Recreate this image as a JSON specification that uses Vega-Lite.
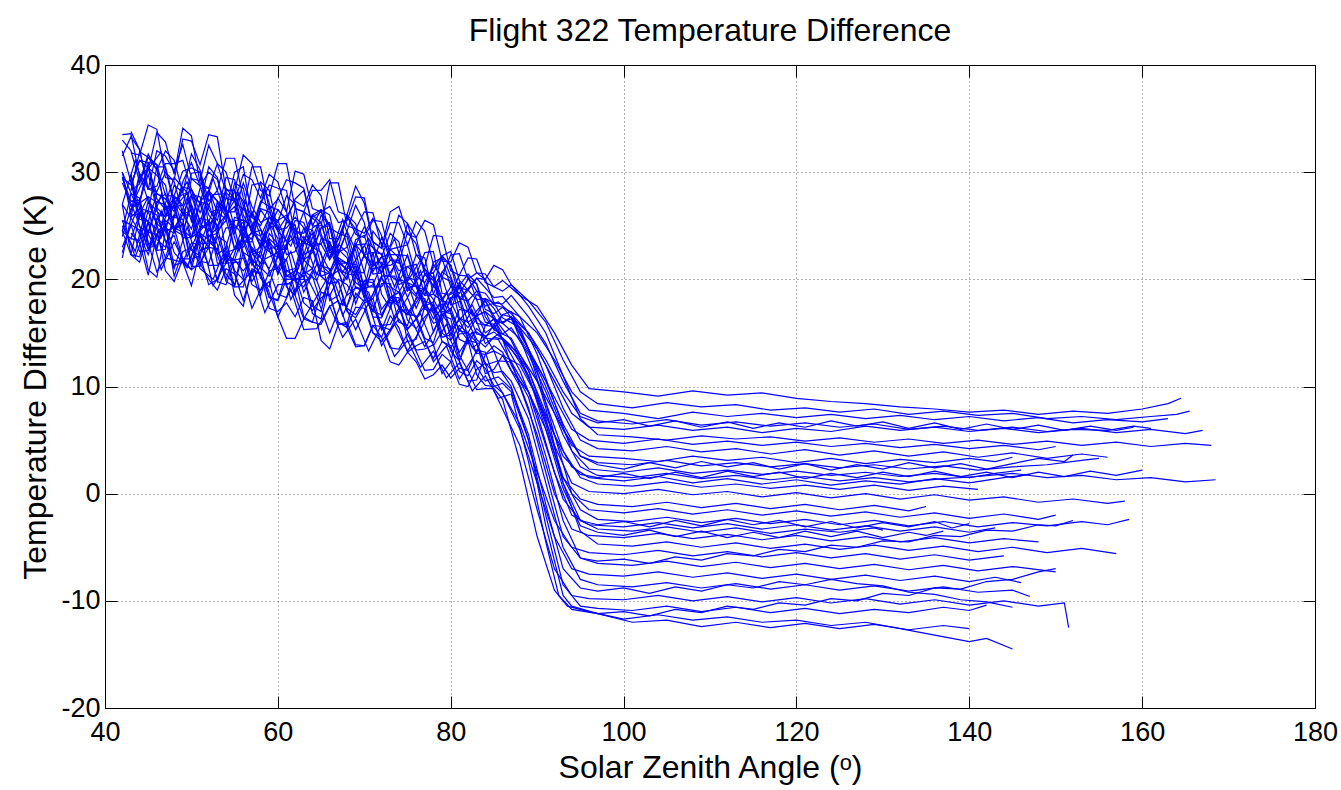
{
"$schema":"https://vega.github.io/schema/vega-lite/v6.json",
"width":1210,"height":643,
"autosize":{"type":"none"},
"padding":{"left":105,"top":65,"right":26,"bottom":82},
"background":"white",
"title":{"text":"Flight 322 Temperature Difference","font":"Liberation Sans","fontSize":32,"fontWeight":"normal","color":"#000","anchor":"middle","frame":"group","baseline":"alphabetic","offset":-22},
"config":{"view":{"stroke":"#000","strokeWidth":1},
"axis":{"domain":false,"grid":true,"gridColor":"#000","gridDash":[1,3],"gridOpacity":0.6,"gridWidth":1,"tickColor":"#000","tickSize":-12,"tickWidth":1,"labelFont":"Liberation Sans","labelFontSize":27,"labelColor":"#000","titleFont":"Liberation Sans","titleFontSize":32,"titleFontWeight":"normal","titleColor":"#000"}},
"datasets":{"d":[
{"s":1,"x":42,"y":33.5},{"s":1,"x":44,"y":29.6},{"s":1,"x":46,"y":33.7},{"s":1,"x":48,"y":29.8},{"s":1,"x":50,"y":33.4},{"s":1,"x":52,"y":28.5},{"s":1,"x":54,"y":30},{"s":1,"x":56,"y":26.5},{"s":1,"x":58,"y":30.5},{"s":1,"x":60,"y":27.5},{"s":1,"x":62,"y":29},{"s":1,"x":64,"y":25},{"s":1,"x":66,"y":29},{"s":1,"x":68,"y":25},{"s":1,"x":70,"y":26.3},{"s":1,"x":72,"y":23.1},{"s":1,"x":74,"y":26},{"s":1,"x":76,"y":22.3},{"s":1,"x":78,"y":24.1},{"s":1,"x":80,"y":20.8},{"s":1,"x":82,"y":22},{"s":1,"x":84,"y":19.7},{"s":1,"x":86,"y":19.9},{"s":1,"x":88,"y":18.5},{"s":1,"x":90,"y":17.5},{"s":1,"x":92,"y":15},{"s":1,"x":94,"y":12},{"s":1,"x":96,"y":9.8},{"s":1,"x":100,"y":9.5},{"s":1,"x":104,"y":9.1},{"s":1,"x":108,"y":9.6},{"s":1,"x":112,"y":9.2},{"s":1,"x":116,"y":9.4},{"s":1,"x":120,"y":8.9},{"s":1,"x":124,"y":8.6},{"s":1,"x":128,"y":8.4},{"s":1,"x":132,"y":8.1},{"s":1,"x":136,"y":7.9},{"s":1,"x":140,"y":7.6},{"s":1,"x":144,"y":7.8},{"s":1,"x":148,"y":7.4},{"s":1,"x":152,"y":7.7},{"s":1,"x":156,"y":7.5},{"s":1,"x":160,"y":7.9},{"s":1,"x":163,"y":8.4},{"s":1,"x":164.5,"y":8.9},
{"s":1,"x":43,"y":33.6},{"s":1,"x":45,"y":30.2},{"s":1,"x":47,"y":32.8},{"s":1,"x":49,"y":34.1},{"s":1,"x":51,"y":29},{"s":1,"x":53,"y":30.8},{"s":1,"x":55,"y":27.3},{"s":1,"x":57,"y":30.5},{"s":1,"x":59,"y":26.5},{"s":1,"x":61,"y":29.3},{"s":1,"x":63,"y":28.5},{"s":1,"x":65,"y":25},{"s":1,"x":67,"y":29},{"s":1,"x":69,"y":24.7},{"s":1,"x":71,"y":26.2},{"s":1,"x":73,"y":23.1},{"s":1,"x":75,"y":25.2},{"s":1,"x":77,"y":21.2},{"s":1,"x":79,"y":24},{"s":1,"x":81,"y":20.4},{"s":1,"x":83,"y":21.9},{"s":1,"x":85,"y":19.3},
{"s":2,"x":43,"y":31.8},{"s":2,"x":45,"y":34.4},{"s":2,"x":47,"y":29.5},{"s":2,"x":49,"y":33.1},{"s":2,"x":51,"y":30.7},{"s":2,"x":53,"y":33.3},{"s":2,"x":55,"y":28.3},{"s":2,"x":57,"y":30.8},{"s":2,"x":59,"y":27.8},{"s":2,"x":61,"y":30.8},{"s":2,"x":63,"y":26.3},{"s":2,"x":65,"y":28.3},{"s":2,"x":67,"y":26.3},{"s":2,"x":69,"y":28.7},{"s":2,"x":71,"y":23.5},{"s":2,"x":73,"y":26.3},{"s":2,"x":75,"y":24.2},{"s":2,"x":77,"y":25.5},{"s":2,"x":79,"y":21.7},{"s":2,"x":81,"y":23.4},{"s":2,"x":83,"y":20.6},{"s":2,"x":85,"y":21.3},{"s":2,"x":87,"y":19.5},{"s":2,"x":89,"y":18},{"s":2,"x":91,"y":16},{"s":2,"x":93,"y":12.5},{"s":2,"x":95,"y":9.5},{"s":2,"x":97,"y":8.4},{"s":2,"x":101,"y":8},{"s":2,"x":105,"y":8.5},{"s":2,"x":109,"y":8.1},{"s":2,"x":113,"y":8.3},{"s":2,"x":117,"y":7.8},{"s":2,"x":121,"y":8},{"s":2,"x":125,"y":7.6},{"s":2,"x":129,"y":7.9},{"s":2,"x":133,"y":7.4},{"s":2,"x":137,"y":7.7},{"s":2,"x":141,"y":7.3},{"s":2,"x":145,"y":7.5},{"s":2,"x":149,"y":7},{"s":2,"x":153,"y":7.2},{"s":2,"x":157,"y":6.9},{"s":2,"x":161,"y":7.2},{"s":2,"x":164,"y":7.4},{"s":2,"x":165.5,"y":7.7},
{"s":2,"x":44,"y":31.6},{"s":2,"x":46,"y":34},{"s":2,"x":48,"y":29.3},{"s":2,"x":50,"y":32.9},{"s":2,"x":52,"y":33.5},{"s":2,"x":54,"y":28.3},{"s":2,"x":56,"y":31.6},{"s":2,"x":58,"y":28.3},{"s":2,"x":60,"y":30.8},{"s":2,"x":62,"y":26.6},{"s":2,"x":64,"y":28.3},{"s":2,"x":66,"y":29.3},{"s":2,"x":68,"y":26},{"s":2,"x":70,"y":27.1},{"s":2,"x":72,"y":22.9},{"s":2,"x":74,"y":26.8},{"s":2,"x":76,"y":23.9},{"s":2,"x":78,"y":25.1},{"s":2,"x":80,"y":21.6},{"s":2,"x":82,"y":23},{"s":2,"x":84,"y":20},{"s":2,"x":86,"y":20.9},
{"s":3,"x":42,"y":33},{"s":3,"x":44,"y":29.1},{"s":3,"x":46,"y":30.2},{"s":3,"x":48,"y":26.8},{"s":3,"x":50,"y":29.9},{"s":3,"x":52,"y":25},{"s":3,"x":54,"y":29.5},{"s":3,"x":56,"y":26},{"s":3,"x":58,"y":27},{"s":3,"x":60,"y":28.5},{"s":3,"x":62,"y":24},{"s":3,"x":64,"y":26},{"s":3,"x":66,"y":22.5},{"s":3,"x":68,"y":24.5},{"s":3,"x":70,"y":25.3},{"s":3,"x":72,"y":20.6},{"s":3,"x":74,"y":23},{"s":3,"x":76,"y":20.3},{"s":3,"x":78,"y":21.1},{"s":3,"x":80,"y":21.3},{"s":3,"x":82,"y":18},{"s":3,"x":84,"y":18.7},{"s":3,"x":86,"y":17.4},{"s":3,"x":88,"y":16.5},{"s":3,"x":90,"y":15},{"s":3,"x":92,"y":12.5},{"s":3,"x":94,"y":9.5},{"s":3,"x":96,"y":7.8},{"s":3,"x":100,"y":7.5},{"s":3,"x":104,"y":7},{"s":3,"x":108,"y":7.6},{"s":3,"x":112,"y":7.2},{"s":3,"x":116,"y":7.5},{"s":3,"x":120,"y":7.1},{"s":3,"x":124,"y":7.4},{"s":3,"x":128,"y":7},{"s":3,"x":132,"y":7.3},{"s":3,"x":136,"y":6.9},{"s":3,"x":140,"y":7.2},{"s":3,"x":144,"y":6.8},{"s":3,"x":148,"y":7.1},{"s":3,"x":152,"y":6.6},{"s":3,"x":156,"y":6.9},{"s":3,"x":160,"y":6.7},{"s":3,"x":163,"y":7},
{"s":3,"x":43,"y":32},{"s":3,"x":45,"y":31.7},{"s":3,"x":47,"y":26.5},{"s":3,"x":49,"y":26.9},{"s":3,"x":51,"y":30},{"s":3,"x":53,"y":26.3},{"s":3,"x":55,"y":29.3},{"s":3,"x":57,"y":24.5},{"s":3,"x":59,"y":28.8},{"s":3,"x":61,"y":28.3},{"s":3,"x":63,"y":23.5},{"s":3,"x":65,"y":25.3},{"s":3,"x":67,"y":22.5},{"s":3,"x":69,"y":26.9},{"s":3,"x":71,"y":21.5},{"s":3,"x":73,"y":22.8},{"s":3,"x":75,"y":23.2},{"s":3,"x":77,"y":19.7},{"s":3,"x":79,"y":22.2},{"s":3,"x":81,"y":18.2},{"s":3,"x":83,"y":18.9},{"s":3,"x":85,"y":17.6},
{"s":4,"x":43,"y":28.3},{"s":4,"x":45,"y":31.4},{"s":4,"x":47,"y":32},{"s":4,"x":49,"y":28.1},{"s":4,"x":51,"y":30.2},{"s":4,"x":53,"y":28.3},{"s":4,"x":55,"y":31.3},{"s":4,"x":57,"y":25.8},{"s":4,"x":59,"y":28.3},{"s":4,"x":61,"y":25.8},{"s":4,"x":63,"y":26.8},{"s":4,"x":65,"y":27.8},{"s":4,"x":67,"y":23.8},{"s":4,"x":69,"y":24.2},{"s":4,"x":71,"y":25.5},{"s":4,"x":73,"y":22.3},{"s":4,"x":75,"y":25.2},{"s":4,"x":77,"y":20.5},{"s":4,"x":79,"y":22.2},{"s":4,"x":81,"y":19.9},{"s":4,"x":83,"y":20.1},{"s":4,"x":85,"y":17.8},{"s":4,"x":87,"y":18.5},{"s":4,"x":89,"y":16.5},{"s":4,"x":91,"y":14},{"s":4,"x":93,"y":10.5},{"s":4,"x":95,"y":7.5},{"s":4,"x":97,"y":6.8},{"s":4,"x":101,"y":6.5},{"s":4,"x":105,"y":6.9},{"s":4,"x":109,"y":6.4},{"s":4,"x":113,"y":6.7},{"s":4,"x":117,"y":6.3},{"s":4,"x":121,"y":6.6},{"s":4,"x":125,"y":6.2},{"s":4,"x":129,"y":6.5},{"s":4,"x":133,"y":6},{"s":4,"x":137,"y":6.3},{"s":4,"x":141,"y":5.9},{"s":4,"x":145,"y":6.2},{"s":4,"x":149,"y":5.8},{"s":4,"x":153,"y":6.1},{"s":4,"x":157,"y":5.7},{"s":4,"x":161,"y":6},{"s":4,"x":165,"y":5.6},{"s":4,"x":167,"y":5.9},
{"s":4,"x":44,"y":31.9},{"s":4,"x":46,"y":30.2},{"s":4,"x":48,"y":31.1},{"s":4,"x":50,"y":31.7},{"s":4,"x":52,"y":27.3},{"s":4,"x":54,"y":31.3},{"s":4,"x":56,"y":27.6},{"s":4,"x":58,"y":29.1},{"s":4,"x":60,"y":24.6},{"s":4,"x":62,"y":27.3},{"s":4,"x":64,"y":28.8},{"s":4,"x":66,"y":23.8},{"s":4,"x":68,"y":26},{"s":4,"x":70,"y":23.9},{"s":4,"x":72,"y":25.4},{"s":4,"x":74,"y":22.3},{"s":4,"x":76,"y":23.9},{"s":4,"x":78,"y":19.4},{"s":4,"x":80,"y":22.6},{"s":4,"x":82,"y":19},{"s":4,"x":84,"y":20},{"s":4,"x":86,"y":17.7},
{"s":5,"x":42,"y":29.5},{"s":5,"x":44,"y":31.1},{"s":5,"x":46,"y":26.7},{"s":5,"x":48,"y":28.8},{"s":5,"x":50,"y":25.4},{"s":5,"x":52,"y":28.5},{"s":5,"x":54,"y":25.5},{"s":5,"x":56,"y":28.5},{"s":5,"x":58,"y":23},{"s":5,"x":60,"y":25.5},{"s":5,"x":62,"y":25.5},{"s":5,"x":64,"y":23},{"s":5,"x":66,"y":25},{"s":5,"x":68,"y":21},{"s":5,"x":70,"y":23.3},{"s":5,"x":72,"y":22.1},{"s":5,"x":74,"y":19.5},{"s":5,"x":76,"y":22.3},{"s":5,"x":78,"y":18.6},{"s":5,"x":80,"y":19.3},{"s":5,"x":82,"y":17},{"s":5,"x":84,"y":18.2},{"s":5,"x":86,"y":16.4},{"s":5,"x":88,"y":15.5},{"s":5,"x":90,"y":13.5},{"s":5,"x":92,"y":10.5},{"s":5,"x":94,"y":7.5},{"s":5,"x":96,"y":6.2},{"s":5,"x":100,"y":6},{"s":5,"x":104,"y":6.4},{"s":5,"x":108,"y":5.9},{"s":5,"x":112,"y":6.2},{"s":5,"x":116,"y":5.7},{"s":5,"x":120,"y":6.1},{"s":5,"x":124,"y":5.8},{"s":5,"x":128,"y":6.3},{"s":5,"x":132,"y":5.9},{"s":5,"x":136,"y":6.2},{"s":5,"x":140,"y":5.8},{"s":5,"x":144,"y":6.1},{"s":5,"x":148,"y":5.7},{"s":5,"x":152,"y":6},{"s":5,"x":156,"y":5.9},{"s":5,"x":159,"y":6.3},{"s":5,"x":161,"y":6.1},
{"s":5,"x":43,"y":28.8},{"s":5,"x":45,"y":30.9},{"s":5,"x":47,"y":25.8},{"s":5,"x":49,"y":28.1},{"s":5,"x":51,"y":28.5},{"s":5,"x":53,"y":24.5},{"s":5,"x":55,"y":29},{"s":5,"x":57,"y":24.8},{"s":5,"x":59,"y":25.8},{"s":5,"x":61,"y":23.5},{"s":5,"x":63,"y":25.3},{"s":5,"x":65,"y":26},{"s":5,"x":67,"y":21.5},{"s":5,"x":69,"y":23.2},{"s":5,"x":71,"y":20.7},{"s":5,"x":73,"y":22.3},{"s":5,"x":75,"y":19.9},{"s":5,"x":77,"y":22},{"s":5,"x":79,"y":18},{"s":5,"x":81,"y":19.2},{"s":5,"x":83,"y":16.6},{"s":5,"x":85,"y":17.8},
{"s":6,"x":43,"y":33.8},{"s":6,"x":45,"y":28.4},{"s":6,"x":47,"y":31.5},{"s":6,"x":49,"y":32.6},{"s":6,"x":51,"y":29.2},{"s":6,"x":53,"y":30.8},{"s":6,"x":55,"y":27.3},{"s":6,"x":57,"y":29.3},{"s":6,"x":59,"y":29.8},{"s":6,"x":61,"y":26.3},{"s":6,"x":63,"y":29.8},{"s":6,"x":65,"y":26.3},{"s":6,"x":67,"y":25.3},{"s":6,"x":69,"y":27.7},{"s":6,"x":71,"y":23.5},{"s":6,"x":73,"y":25.3},{"s":6,"x":75,"y":23.2},{"s":6,"x":77,"y":24.5},{"s":6,"x":79,"y":20.2},{"s":6,"x":81,"y":22.4},{"s":6,"x":83,"y":20.6},{"s":6,"x":85,"y":19.3},{"s":6,"x":87,"y":19.5},{"s":6,"x":89,"y":17.5},{"s":6,"x":91,"y":15},{"s":6,"x":93,"y":11},{"s":6,"x":95,"y":7},{"s":6,"x":97,"y":5.5},{"s":6,"x":101,"y":5.3},{"s":6,"x":105,"y":5},{"s":6,"x":109,"y":5.4},{"s":6,"x":113,"y":5.1},{"s":6,"x":117,"y":5.3},{"s":6,"x":121,"y":4.9},{"s":6,"x":125,"y":5.2},{"s":6,"x":129,"y":4.8},{"s":6,"x":133,"y":5.1},{"s":6,"x":137,"y":4.7},{"s":6,"x":141,"y":5},{"s":6,"x":145,"y":4.6},{"s":6,"x":149,"y":4.9},{"s":6,"x":153,"y":4.5},{"s":6,"x":157,"y":4.8},{"s":6,"x":161,"y":4.4},{"s":6,"x":165,"y":4.7},{"s":6,"x":168,"y":4.5},
{"s":6,"x":44,"y":32.1},{"s":6,"x":46,"y":32},{"s":6,"x":48,"y":30.1},{"s":6,"x":50,"y":29.4},{"s":6,"x":52,"y":32.5},{"s":6,"x":54,"y":28.1},{"s":6,"x":56,"y":29.8},{"s":6,"x":58,"y":27.6},{"s":6,"x":60,"y":29.1},{"s":6,"x":62,"y":30.1},{"s":6,"x":64,"y":26.6},{"s":6,"x":66,"y":26.8},{"s":6,"x":68,"y":25.5},{"s":6,"x":70,"y":27.6},{"s":6,"x":72,"y":22.9},{"s":6,"x":74,"y":25.3},{"s":6,"x":76,"y":25.4},{"s":6,"x":78,"y":21.4},{"s":6,"x":80,"y":22.3},{"s":6,"x":82,"y":20},{"s":6,"x":84,"y":20.5},{"s":6,"x":86,"y":18.9},
{"s":7,"x":42,"y":29.5},{"s":7,"x":44,"y":27.1},{"s":7,"x":46,"y":29.7},{"s":7,"x":48,"y":24.8},{"s":7,"x":50,"y":29.4},{"s":7,"x":52,"y":26},{"s":7,"x":54,"y":26},{"s":7,"x":56,"y":23.5},{"s":7,"x":58,"y":26.5},{"s":7,"x":60,"y":22},{"s":7,"x":62,"y":25},{"s":7,"x":64,"y":22.5},{"s":7,"x":66,"y":25},{"s":7,"x":68,"y":20},{"s":7,"x":70,"y":22.3},{"s":7,"x":72,"y":20.6},{"s":7,"x":74,"y":22},{"s":7,"x":76,"y":19.8},{"s":7,"x":78,"y":20.1},{"s":7,"x":80,"y":17.8},{"s":7,"x":82,"y":18},{"s":7,"x":84,"y":15.7},{"s":7,"x":86,"y":15.9},{"s":7,"x":88,"y":14.5},{"s":7,"x":90,"y":12},{"s":7,"x":92,"y":9},{"s":7,"x":94,"y":6},{"s":7,"x":96,"y":5},{"s":7,"x":100,"y":4.7},{"s":7,"x":104,"y":5.1},{"s":7,"x":108,"y":4.6},{"s":7,"x":112,"y":4.9},{"s":7,"x":116,"y":4.5},{"s":7,"x":120,"y":4.8},{"s":7,"x":124,"y":4.4},{"s":7,"x":128,"y":4.7},{"s":7,"x":132,"y":4.3},{"s":7,"x":136,"y":4.6},{"s":7,"x":140,"y":4.2},{"s":7,"x":144,"y":4.5},{"s":7,"x":148,"y":4.1},{"s":7,"x":150,"y":4.4},
{"s":7,"x":43,"y":26.8},{"s":7,"x":45,"y":30.4},{"s":7,"x":47,"y":28.8},{"s":7,"x":49,"y":25.1},{"s":7,"x":51,"y":28.7},{"s":7,"x":53,"y":25},{"s":7,"x":55,"y":26.8},{"s":7,"x":57,"y":23.5},{"s":7,"x":59,"y":25.3},{"s":7,"x":61,"y":25.5},{"s":7,"x":63,"y":21.8},{"s":7,"x":65,"y":24.8},{"s":7,"x":67,"y":21},{"s":7,"x":69,"y":23.2},{"s":7,"x":71,"y":20.5},{"s":7,"x":73,"y":22.8},{"s":7,"x":75,"y":18.9},{"s":7,"x":77,"y":21},{"s":7,"x":79,"y":18},{"s":7,"x":81,"y":19.4},{"s":7,"x":83,"y":15.9},{"s":7,"x":85,"y":16.3},
{"s":8,"x":43,"y":28.8},{"s":8,"x":45,"y":30.4},{"s":8,"x":47,"y":27.5},{"s":8,"x":49,"y":29.1},{"s":8,"x":51,"y":28.7},{"s":8,"x":53,"y":29.3},{"s":8,"x":55,"y":26.3},{"s":8,"x":57,"y":26.8},{"s":8,"x":59,"y":25.8},{"s":8,"x":61,"y":27.8},{"s":8,"x":63,"y":22.3},{"s":8,"x":65,"y":25.3},{"s":8,"x":67,"y":23.8},{"s":8,"x":69,"y":24.7},{"s":8,"x":71,"y":21.5},{"s":8,"x":73,"y":22.3},{"s":8,"x":75,"y":21.2},{"s":8,"x":77,"y":22.5},{"s":8,"x":79,"y":18.7},{"s":8,"x":81,"y":20.4},{"s":8,"x":83,"y":18.1},{"s":8,"x":85,"y":17.3},{"s":8,"x":87,"y":16.5},{"s":8,"x":89,"y":15},{"s":8,"x":91,"y":12},{"s":8,"x":93,"y":8},{"s":8,"x":95,"y":5},{"s":8,"x":97,"y":4.2},{"s":8,"x":101,"y":4},{"s":8,"x":105,"y":4.4},{"s":8,"x":109,"y":3.9},{"s":8,"x":113,"y":4.2},{"s":8,"x":117,"y":3.7},{"s":8,"x":121,"y":4.1},{"s":8,"x":125,"y":3.6},{"s":8,"x":129,"y":4},{"s":8,"x":133,"y":3.5},{"s":8,"x":137,"y":3.9},{"s":8,"x":141,"y":3.4},{"s":8,"x":145,"y":3.8},{"s":8,"x":149,"y":3.3},{"s":8,"x":153,"y":3.7},{"s":8,"x":156,"y":3.4},
{"s":8,"x":44,"y":31.1},{"s":8,"x":46,"y":28},{"s":8,"x":48,"y":26.3},{"s":8,"x":50,"y":30.9},{"s":8,"x":52,"y":30},{"s":8,"x":54,"y":26.3},{"s":8,"x":56,"y":29},{"s":8,"x":58,"y":25.3},{"s":8,"x":60,"y":25.3},{"s":8,"x":62,"y":27},{"s":8,"x":64,"y":24.8},{"s":8,"x":66,"y":22.6},{"s":8,"x":68,"y":25.8},{"s":8,"x":70,"y":22.1},{"s":8,"x":72,"y":23.9},{"s":8,"x":74,"y":20.8},{"s":8,"x":76,"y":20.4},{"s":8,"x":78,"y":22.6},{"s":8,"x":80,"y":18.6},{"s":8,"x":82,"y":20.3},{"s":8,"x":84,"y":18.2},{"s":8,"x":86,"y":15.9},
{"s":9,"x":42,"y":30},{"s":9,"x":44,"y":26.1},{"s":9,"x":46,"y":27.2},{"s":9,"x":48,"y":24.8},{"s":9,"x":50,"y":26.9},{"s":9,"x":52,"y":23},{"s":9,"x":54,"y":26.5},{"s":9,"x":56,"y":23},{"s":9,"x":58,"y":24},{"s":9,"x":60,"y":24.5},{"s":9,"x":62,"y":21},{"s":9,"x":64,"y":23},{"s":9,"x":66,"y":20.5},{"s":9,"x":68,"y":21.5},{"s":9,"x":70,"y":22.3},{"s":9,"x":72,"y":18.6},{"s":9,"x":74,"y":20},{"s":9,"x":76,"y":17.3},{"s":9,"x":78,"y":18.1},{"s":9,"x":80,"y":17.3},{"s":9,"x":82,"y":15},{"s":9,"x":84,"y":15.7},{"s":9,"x":86,"y":14.4},{"s":9,"x":88,"y":13},{"s":9,"x":90,"y":10.5},{"s":9,"x":92,"y":7.5},{"s":9,"x":94,"y":4.5},{"s":9,"x":96,"y":3.5},{"s":9,"x":100,"y":3.3},{"s":9,"x":104,"y":3},{"s":9,"x":108,"y":3.5},{"s":9,"x":112,"y":3.1},{"s":9,"x":116,"y":3.4},{"s":9,"x":120,"y":2.9},{"s":9,"x":124,"y":3.3},{"s":9,"x":128,"y":2.8},{"s":9,"x":132,"y":3.2},{"s":9,"x":136,"y":2.9},{"s":9,"x":140,"y":3.3},{"s":9,"x":143,"y":3},{"s":9,"x":145,"y":3.4},
{"s":9,"x":43,"y":26},{"s":9,"x":45,"y":27.7},{"s":9,"x":47,"y":28},{"s":9,"x":49,"y":24.4},{"s":9,"x":51,"y":24},{"s":9,"x":53,"y":27.3},{"s":9,"x":55,"y":22.8},{"s":9,"x":57,"y":24.5},{"s":9,"x":59,"y":25.8},{"s":9,"x":61,"y":20.8},{"s":9,"x":63,"y":24},{"s":9,"x":65,"y":20.8},{"s":9,"x":67,"y":22},{"s":9,"x":69,"y":20.4},{"s":9,"x":71,"y":22.5},{"s":9,"x":73,"y":17.3},{"s":9,"x":75,"y":19.7},{"s":9,"x":77,"y":19.2},{"s":9,"x":79,"y":16.7},{"s":9,"x":81,"y":15.2},{"s":9,"x":83,"y":16.4},{"s":9,"x":85,"y":15.6},
{"s":10,"x":43,"y":26.3},{"s":10,"x":45,"y":28.4},{"s":10,"x":47,"y":30},{"s":10,"x":49,"y":26.1},{"s":10,"x":51,"y":27.2},{"s":10,"x":53,"y":26.3},{"s":10,"x":55,"y":28.3},{"s":10,"x":57,"y":23.8},{"s":10,"x":59,"y":26.3},{"s":10,"x":61,"y":24.8},{"s":10,"x":63,"y":24.8},{"s":10,"x":65,"y":24.8},{"s":10,"x":67,"y":21.8},{"s":10,"x":69,"y":23.2},{"s":10,"x":71,"y":23.5},{"s":10,"x":73,"y":20.3},{"s":10,"x":75,"y":22.2},{"s":10,"x":77,"y":18.5},{"s":10,"x":79,"y":20.2},{"s":10,"x":81,"y":17.9},{"s":10,"x":83,"y":18.1},{"s":10,"x":85,"y":15.8},{"s":10,"x":87,"y":16.5},{"s":10,"x":89,"y":13.5},{"s":10,"x":91,"y":10.5},{"s":10,"x":93,"y":6.5},{"s":10,"x":95,"y":3.5},{"s":10,"x":97,"y":2.9},{"s":10,"x":101,"y":2.7},{"s":10,"x":105,"y":3.1},{"s":10,"x":109,"y":2.6},{"s":10,"x":113,"y":2.9},{"s":10,"x":117,"y":2.5},{"s":10,"x":121,"y":2.8},{"s":10,"x":125,"y":2.4},{"s":10,"x":129,"y":2.7},{"s":10,"x":133,"y":2.3},{"s":10,"x":137,"y":2.6},{"s":10,"x":141,"y":2.2},{"s":10,"x":145,"y":2.5},{"s":10,"x":149,"y":2.7},{"s":10,"x":153,"y":3.1},{"s":10,"x":155,"y":3.3},
{"s":10,"x":44,"y":29.9},{"s":10,"x":46,"y":28.2},{"s":10,"x":48,"y":29.1},{"s":10,"x":50,"y":24.7},{"s":10,"x":52,"y":28.3},{"s":10,"x":54,"y":28.3},{"s":10,"x":56,"y":24.1},{"s":10,"x":58,"y":26.6},{"s":10,"x":60,"y":24.6},{"s":10,"x":62,"y":25.8},{"s":10,"x":64,"y":22.8},{"s":10,"x":66,"y":25.3},{"s":10,"x":68,"y":21.5},{"s":10,"x":70,"y":24.9},{"s":10,"x":72,"y":20.4},{"s":10,"x":74,"y":22.3},{"s":10,"x":76,"y":19.4},{"s":10,"x":78,"y":21.4},{"s":10,"x":80,"y":17.6},{"s":10,"x":82,"y":19},{"s":10,"x":84,"y":16},{"s":10,"x":86,"y":16.7},
{"s":11,"x":42,"y":31.5},{"s":11,"x":44,"y":32.1},{"s":11,"x":46,"y":28.7},{"s":11,"x":48,"y":30.8},{"s":11,"x":50,"y":28.4},{"s":11,"x":52,"y":30.5},{"s":11,"x":54,"y":26.5},{"s":11,"x":56,"y":30.5},{"s":11,"x":58,"y":25},{"s":11,"x":60,"y":26.5},{"s":11,"x":62,"y":27.5},{"s":11,"x":64,"y":25},{"s":11,"x":66,"y":26},{"s":11,"x":68,"y":23},{"s":11,"x":70,"y":24.3},{"s":11,"x":72,"y":24.1},{"s":11,"x":74,"y":21.5},{"s":11,"x":76,"y":23.3},{"s":11,"x":78,"y":20.6},{"s":11,"x":80,"y":21.3},{"s":11,"x":82,"y":19},{"s":11,"x":84,"y":19.2},{"s":11,"x":86,"y":18.4},{"s":11,"x":88,"y":16.5},{"s":11,"x":90,"y":13},{"s":11,"x":92,"y":8.5},{"s":11,"x":94,"y":4},{"s":11,"x":96,"y":2.3},{"s":11,"x":100,"y":2},{"s":11,"x":104,"y":2.4},{"s":11,"x":108,"y":1.9},{"s":11,"x":112,"y":2.2},{"s":11,"x":116,"y":1.8},{"s":11,"x":120,"y":2.1},{"s":11,"x":124,"y":1.7},{"s":11,"x":128,"y":2},{"s":11,"x":132,"y":1.6},{"s":11,"x":136,"y":1.9},{"s":11,"x":140,"y":1.5},{"s":11,"x":143,"y":1.9},{"s":11,"x":146,"y":2.2},
{"s":11,"x":43,"y":33.3},{"s":11,"x":45,"y":28.4},{"s":11,"x":47,"y":30.8},{"s":11,"x":49,"y":31.1},{"s":11,"x":51,"y":27},{"s":11,"x":53,"y":29.5},{"s":11,"x":55,"y":30},{"s":11,"x":57,"y":25.8},{"s":11,"x":59,"y":26.8},{"s":11,"x":61,"y":25.5},{"s":11,"x":63,"y":28.3},{"s":11,"x":65,"y":26.5},{"s":11,"x":67,"y":22.5},{"s":11,"x":69,"y":24.7},{"s":11,"x":71,"y":25.7},{"s":11,"x":73,"y":21.8},{"s":11,"x":75,"y":24.4},{"s":11,"x":77,"y":20.5},{"s":11,"x":79,"y":22},{"s":11,"x":81,"y":19.2},{"s":11,"x":83,"y":20.1},{"s":11,"x":85,"y":18.3},
{"s":12,"x":43,"y":29.8},{"s":12,"x":45,"y":25.4},{"s":12,"x":47,"y":27.5},{"s":12,"x":49,"y":27.6},{"s":12,"x":51,"y":25.2},{"s":12,"x":53,"y":26.8},{"s":12,"x":55,"y":24.3},{"s":12,"x":57,"y":25.3},{"s":12,"x":59,"y":24.8},{"s":12,"x":61,"y":22.3},{"s":12,"x":63,"y":24.8},{"s":12,"x":65,"y":22.3},{"s":12,"x":67,"y":22.3},{"s":12,"x":69,"y":22.7},{"s":12,"x":71,"y":19.5},{"s":12,"x":73,"y":21.3},{"s":12,"x":75,"y":19.2},{"s":12,"x":77,"y":20.5},{"s":12,"x":79,"y":17.2},{"s":12,"x":81,"y":18.4},{"s":12,"x":83,"y":16.6},{"s":12,"x":85,"y":15.3},{"s":12,"x":87,"y":15.5},{"s":12,"x":89,"y":13},{"s":12,"x":91,"y":9.5},{"s":12,"x":93,"y":5.5},{"s":12,"x":95,"y":2.5},{"s":12,"x":97,"y":1.7},{"s":12,"x":101,"y":1.5},{"s":12,"x":105,"y":1.9},{"s":12,"x":109,"y":1.4},{"s":12,"x":113,"y":1.7},{"s":12,"x":117,"y":1.3},{"s":12,"x":121,"y":1.6},{"s":12,"x":125,"y":1.2},{"s":12,"x":129,"y":1.5},{"s":12,"x":133,"y":1.1},{"s":12,"x":137,"y":1.4},{"s":12,"x":141,"y":1.6},{"s":12,"x":145,"y":1.9},{"s":12,"x":149,"y":1.5},{"s":12,"x":153,"y":1.7},{"s":12,"x":157,"y":1.3},{"s":12,"x":161,"y":1.5},{"s":12,"x":165,"y":1.1},{"s":12,"x":168.5,"y":1.3},
{"s":12,"x":44,"y":25.6},{"s":12,"x":46,"y":28},{"s":12,"x":48,"y":26.6},{"s":12,"x":50,"y":28.4},{"s":12,"x":52,"y":24.5},{"s":12,"x":54,"y":26.6},{"s":12,"x":56,"y":26.8},{"s":12,"x":58,"y":23.1},{"s":12,"x":60,"y":25.1},{"s":12,"x":62,"y":22.6},{"s":12,"x":64,"y":24.6},{"s":12,"x":66,"y":20.8},{"s":12,"x":68,"y":24.5},{"s":12,"x":70,"y":19.1},{"s":12,"x":72,"y":21.4},{"s":12,"x":74,"y":21.8},{"s":12,"x":76,"y":18.4},{"s":12,"x":78,"y":19.9},{"s":12,"x":80,"y":18.8},{"s":12,"x":82,"y":16},{"s":12,"x":84,"y":17},{"s":12,"x":86,"y":14.9},
{"s":13,"x":42,"y":24.5},{"s":13,"x":44,"y":27.6},{"s":13,"x":46,"y":22.7},{"s":13,"x":48,"y":25.8},{"s":13,"x":50,"y":21.4},{"s":13,"x":52,"y":25.5},{"s":13,"x":54,"y":23},{"s":13,"x":56,"y":25.5},{"s":13,"x":58,"y":20.5},{"s":13,"x":60,"y":22.5},{"s":13,"x":62,"y":20},{"s":13,"x":64,"y":23},{"s":13,"x":66,"y":18},{"s":13,"x":68,"y":21},{"s":13,"x":70,"y":18.3},{"s":13,"x":72,"y":20.1},{"s":13,"x":74,"y":16},{"s":13,"x":76,"y":18.3},{"s":13,"x":78,"y":15.1},{"s":13,"x":80,"y":16.8},{"s":13,"x":82,"y":14},{"s":13,"x":84,"y":14.7},{"s":13,"x":86,"y":12.9},{"s":13,"x":88,"y":12},{"s":13,"x":90,"y":9},{"s":13,"x":92,"y":5.5},{"s":13,"x":94,"y":2.5},{"s":13,"x":96,"y":1.5},{"s":13,"x":100,"y":1.2},{"s":13,"x":104,"y":1.6},{"s":13,"x":108,"y":1},{"s":13,"x":112,"y":1.4},{"s":13,"x":116,"y":0.9},{"s":13,"x":120,"y":1.3},{"s":13,"x":124,"y":0.8},{"s":13,"x":128,"y":1.2},{"s":13,"x":132,"y":0.9},{"s":13,"x":136,"y":1.4},{"s":13,"x":140,"y":1},{"s":13,"x":144,"y":1.5},{"s":13,"x":147,"y":1.8},
{"s":13,"x":43,"y":28},{"s":13,"x":45,"y":24.2},{"s":13,"x":47,"y":22.8},{"s":13,"x":49,"y":25.6},{"s":13,"x":51,"y":24.5},{"s":13,"x":53,"y":22.3},{"s":13,"x":55,"y":25.8},{"s":13,"x":57,"y":21.5},{"s":13,"x":59,"y":23.5},{"s":13,"x":61,"y":20.3},{"s":13,"x":63,"y":20},{"s":13,"x":65,"y":22.5},{"s":13,"x":67,"y":18.5},{"s":13,"x":69,"y":21.2},{"s":13,"x":71,"y":18.2},{"s":13,"x":73,"y":19.1},{"s":13,"x":75,"y":15.7},{"s":13,"x":77,"y":18.2},{"s":13,"x":79,"y":17},{"s":13,"x":81,"y":14.4},{"s":13,"x":83,"y":15.4},{"s":13,"x":85,"y":13.3},
{"s":14,"x":43,"y":29.8},{"s":14,"x":45,"y":26.4},{"s":14,"x":47,"y":30.5},{"s":14,"x":49,"y":26.1},{"s":14,"x":51,"y":27.7},{"s":14,"x":53,"y":24.3},{"s":14,"x":55,"y":28.3},{"s":14,"x":57,"y":24.8},{"s":14,"x":59,"y":26.8},{"s":14,"x":61,"y":22.8},{"s":14,"x":63,"y":26.3},{"s":14,"x":65,"y":23.3},{"s":14,"x":67,"y":24.3},{"s":14,"x":69,"y":20.7},{"s":14,"x":71,"y":24.5},{"s":14,"x":73,"y":20.3},{"s":14,"x":75,"y":21.2},{"s":14,"x":77,"y":18.5},{"s":14,"x":79,"y":20.7},{"s":14,"x":81,"y":17.4},{"s":14,"x":83,"y":18.6},{"s":14,"x":85,"y":16.3},{"s":14,"x":87,"y":16.5},{"s":14,"x":89,"y":12.5},{"s":14,"x":91,"y":8.5},{"s":14,"x":93,"y":4},{"s":14,"x":95,"y":1.5},{"s":14,"x":97,"y":0.9},{"s":14,"x":101,"y":0.7},{"s":14,"x":105,"y":1.1},{"s":14,"x":109,"y":0.6},{"s":14,"x":113,"y":0.9},{"s":14,"x":117,"y":0.5},{"s":14,"x":121,"y":0.8},{"s":14,"x":125,"y":0.4},{"s":14,"x":129,"y":0.8},{"s":14,"x":133,"y":0.3},{"s":14,"x":137,"y":0.7},{"s":14,"x":141,"y":0.4},
{"s":14,"x":44,"y":26.6},{"s":14,"x":46,"y":30.5},{"s":14,"x":48,"y":27.3},{"s":14,"x":50,"y":27.9},{"s":14,"x":52,"y":24},{"s":14,"x":54,"y":28.3},{"s":14,"x":56,"y":25.6},{"s":14,"x":58,"y":27.3},{"s":14,"x":60,"y":22.8},{"s":14,"x":62,"y":26.6},{"s":14,"x":64,"y":23.3},{"s":14,"x":66,"y":24.8},{"s":14,"x":68,"y":24},{"s":14,"x":70,"y":20.6},{"s":14,"x":72,"y":23.4},{"s":14,"x":74,"y":19.8},{"s":14,"x":76,"y":21.4},{"s":14,"x":78,"y":18.6},{"s":14,"x":80,"y":20.1},{"s":14,"x":82,"y":17},{"s":14,"x":84,"y":18},{"s":14,"x":86,"y":15.9},
{"s":15,"x":42,"y":24},{"s":15,"x":44,"y":27.1},{"s":15,"x":46,"y":25.2},{"s":15,"x":48,"y":27.8},{"s":15,"x":50,"y":23.9},{"s":15,"x":52,"y":28},{"s":15,"x":54,"y":22.5},{"s":15,"x":56,"y":25},{"s":15,"x":58,"y":23},{"s":15,"x":60,"y":20.5},{"s":15,"x":62,"y":24},{"s":15,"x":64,"y":21},{"s":15,"x":66,"y":23.5},{"s":15,"x":68,"y":20.5},{"s":15,"x":70,"y":18.3},{"s":15,"x":72,"y":21.6},{"s":15,"x":74,"y":18},{"s":15,"x":76,"y":19.3},{"s":15,"x":78,"y":17.1},{"s":15,"x":80,"y":15.3},{"s":15,"x":82,"y":17},{"s":15,"x":84,"y":14.7},{"s":15,"x":86,"y":14.4},{"s":15,"x":88,"y":12.5},{"s":15,"x":90,"y":9},{"s":15,"x":92,"y":4.5},{"s":15,"x":94,"y":1},{"s":15,"x":96,"y":0.2},{"s":15,"x":100,"y":0},{"s":15,"x":104,"y":0.4},{"s":15,"x":108,"y":-0.1},{"s":15,"x":112,"y":0.2},{"s":15,"x":116,"y":-0.3},{"s":15,"x":120,"y":0.1},{"s":15,"x":124,"y":-0.4},{"s":15,"x":128,"y":0},{"s":15,"x":132,"y":-0.5},{"s":15,"x":136,"y":-0.1},{"s":15,"x":140,"y":-0.6},{"s":15,"x":144,"y":-0.3},{"s":15,"x":148,"y":-0.8},{"s":15,"x":152,"y":-0.5},{"s":15,"x":156,"y":-0.9},{"s":15,"x":158,"y":-0.7},
{"s":15,"x":43,"y":26.6},{"s":15,"x":45,"y":27.7},{"s":15,"x":47,"y":24.5},{"s":15,"x":49,"y":26.9},{"s":15,"x":51,"y":24.5},{"s":15,"x":53,"y":27.3},{"s":15,"x":55,"y":22.8},{"s":15,"x":57,"y":22.5},{"s":15,"x":59,"y":23.8},{"s":15,"x":61,"y":23.3},{"s":15,"x":63,"y":20.5},{"s":15,"x":65,"y":23.8},{"s":15,"x":67,"y":21},{"s":15,"x":69,"y":20.4},{"s":15,"x":71,"y":21.5},{"s":15,"x":73,"y":17.8},{"s":15,"x":75,"y":19.7},{"s":15,"x":77,"y":17.2},{"s":15,"x":79,"y":17.7},{"s":15,"x":81,"y":17.2},{"s":15,"x":83,"y":14.9},{"s":15,"x":85,"y":15.1},
{"s":16,"x":43,"y":27.3},{"s":16,"x":45,"y":23.4},{"s":16,"x":47,"y":22},{"s":16,"x":49,"y":25.1},{"s":16,"x":51,"y":22.2},{"s":16,"x":53,"y":23.3},{"s":16,"x":55,"y":19.3},{"s":16,"x":57,"y":23.8},{"s":16,"x":59,"y":20.3},{"s":16,"x":61,"y":21.8},{"s":16,"x":63,"y":19.8},{"s":16,"x":65,"y":17.8},{"s":16,"x":67,"y":20.8},{"s":16,"x":69,"y":19.2},{"s":16,"x":71,"y":16.5},{"s":16,"x":73,"y":18.3},{"s":16,"x":75,"y":14.2},{"s":16,"x":77,"y":17.5},{"s":16,"x":79,"y":14.2},{"s":16,"x":81,"y":14.9},{"s":16,"x":83,"y":13.1},{"s":16,"x":85,"y":13.8},{"s":16,"x":87,"y":11.5},{"s":16,"x":89,"y":9.5},{"s":16,"x":91,"y":6},{"s":16,"x":93,"y":1.5},{"s":16,"x":95,"y":-0.5},{"s":16,"x":97,"y":-1},{"s":16,"x":101,"y":-1.2},{"s":16,"x":105,"y":-0.8},{"s":16,"x":109,"y":-1.3},{"s":16,"x":113,"y":-0.9},{"s":16,"x":117,"y":-1.4},{"s":16,"x":121,"y":-1},{"s":16,"x":125,"y":-1.5},{"s":16,"x":129,"y":-1.1},{"s":16,"x":133,"y":-1.6},{"s":16,"x":135,"y":-1.2},
{"s":16,"x":44,"y":27.4},{"s":16,"x":46,"y":20.7},{"s":16,"x":48,"y":24.6},{"s":16,"x":50,"y":22.7},{"s":16,"x":52,"y":24.8},{"s":16,"x":54,"y":19.8},{"s":16,"x":56,"y":23.6},{"s":16,"x":58,"y":21.1},{"s":16,"x":60,"y":22.1},{"s":16,"x":62,"y":18.8},{"s":16,"x":64,"y":20.3},{"s":16,"x":66,"y":20.3},{"s":16,"x":68,"y":18.5},{"s":16,"x":70,"y":18.9},{"s":16,"x":72,"y":16.4},{"s":16,"x":74,"y":18.3},{"s":16,"x":76,"y":14.4},{"s":16,"x":78,"y":16.9},{"s":16,"x":80,"y":13.6},{"s":16,"x":82,"y":15},{"s":16,"x":84,"y":13},{"s":16,"x":86,"y":13.2},
{"s":17,"x":42,"y":29.5},{"s":17,"x":44,"y":27.1},{"s":17,"x":46,"y":30.7},{"s":17,"x":48,"y":27.8},{"s":17,"x":50,"y":30.4},{"s":17,"x":52,"y":26.5},{"s":17,"x":54,"y":28.5},{"s":17,"x":56,"y":24.5},{"s":17,"x":58,"y":29},{"s":17,"x":60,"y":25.5},{"s":17,"x":62,"y":24.5},{"s":17,"x":64,"y":26},{"s":17,"x":66,"y":23},{"s":17,"x":68,"y":26},{"s":17,"x":70,"y":22.3},{"s":17,"x":72,"y":22.1},{"s":17,"x":74,"y":23.5},{"s":17,"x":76,"y":19.3},{"s":17,"x":78,"y":21.6},{"s":17,"x":80,"y":19.3},{"s":17,"x":82,"y":20},{"s":17,"x":84,"y":17.2},{"s":17,"x":86,"y":17.4},{"s":17,"x":88,"y":15.5},{"s":17,"x":90,"y":11.5},{"s":17,"x":92,"y":5.5},{"s":17,"x":94,"y":0},{"s":17,"x":96,"y":-1.5},{"s":17,"x":100,"y":-1.8},{"s":17,"x":104,"y":-1.4},{"s":17,"x":108,"y":-1.9},{"s":17,"x":112,"y":-1.5},{"s":17,"x":116,"y":-2},{"s":17,"x":120,"y":-1.6},{"s":17,"x":124,"y":-2.1},{"s":17,"x":128,"y":-1.7},{"s":17,"x":132,"y":-2.2},{"s":17,"x":136,"y":-1.8},{"s":17,"x":140,"y":-2.3},{"s":17,"x":144,"y":-1.9},{"s":17,"x":148,"y":-2.4},{"s":17,"x":150,"y":-2},
{"s":17,"x":43,"y":27.3},{"s":17,"x":45,"y":30.9},{"s":17,"x":47,"y":27.8},{"s":17,"x":49,"y":30.1},{"s":17,"x":51,"y":30},{"s":17,"x":53,"y":25.5},{"s":17,"x":55,"y":27.5},{"s":17,"x":57,"y":28.8},{"s":17,"x":59,"y":25.8},{"s":17,"x":61,"y":26},{"s":17,"x":63,"y":24.3},{"s":17,"x":65,"y":26.5},{"s":17,"x":67,"y":23},{"s":17,"x":69,"y":25.2},{"s":17,"x":71,"y":21.2},{"s":17,"x":73,"y":24.3},{"s":17,"x":75,"y":20.4},{"s":17,"x":77,"y":19},{"s":17,"x":79,"y":22},{"s":17,"x":81,"y":18.7},{"s":17,"x":83,"y":19.6},{"s":17,"x":85,"y":16.8},
{"s":18,"x":43,"y":25.8},{"s":18,"x":45,"y":30.4},{"s":18,"x":47,"y":26.5},{"s":18,"x":49,"y":24.6},{"s":18,"x":51,"y":27.2},{"s":18,"x":53,"y":24.8},{"s":18,"x":55,"y":27.3},{"s":18,"x":57,"y":24.3},{"s":18,"x":59,"y":22.8},{"s":18,"x":61,"y":25.3},{"s":18,"x":63,"y":20.8},{"s":18,"x":65,"y":23.3},{"s":18,"x":67,"y":23.3},{"s":18,"x":69,"y":19.7},{"s":18,"x":71,"y":22.5},{"s":18,"x":73,"y":19.3},{"s":18,"x":75,"y":20.2},{"s":18,"x":77,"y":17.5},{"s":18,"x":79,"y":20.2},{"s":18,"x":81,"y":16.4},{"s":18,"x":83,"y":16.6},{"s":18,"x":85,"y":16.3},{"s":18,"x":87,"y":14.5},{"s":18,"x":89,"y":11.5},{"s":18,"x":91,"y":7},{"s":18,"x":93,"y":1.5},{"s":18,"x":95,"y":-1.5},{"s":18,"x":97,"y":-2.4},{"s":18,"x":101,"y":-2.6},{"s":18,"x":105,"y":-2.2},{"s":18,"x":109,"y":-2.7},{"s":18,"x":113,"y":-2.3},{"s":18,"x":117,"y":-2.8},{"s":18,"x":121,"y":-2.4},{"s":18,"x":125,"y":-2.9},{"s":18,"x":129,"y":-2.5},{"s":18,"x":133,"y":-3},{"s":18,"x":137,"y":-2.6},{"s":18,"x":141,"y":-3.1},{"s":18,"x":145,"y":-2.7},{"s":18,"x":149,"y":-3},{"s":18,"x":153,"y":-2.6},{"s":18,"x":156,"y":-2.9},{"s":18,"x":158.5,"y":-2.4},
{"s":18,"x":44,"y":29.6},{"s":18,"x":46,"y":27.5},{"s":18,"x":48,"y":27.6},{"s":18,"x":50,"y":23.9},{"s":18,"x":52,"y":27},{"s":18,"x":54,"y":27.6},{"s":18,"x":56,"y":23.8},{"s":18,"x":58,"y":24.6},{"s":18,"x":60,"y":23.1},{"s":18,"x":62,"y":25.1},{"s":18,"x":64,"y":23.1},{"s":18,"x":66,"y":21.8},{"s":18,"x":68,"y":22.5},{"s":18,"x":70,"y":19.1},{"s":18,"x":72,"y":22.4},{"s":18,"x":74,"y":18.8},{"s":18,"x":76,"y":19.9},{"s":18,"x":78,"y":17.9},{"s":18,"x":80,"y":19.8},{"s":18,"x":82,"y":15.5},{"s":18,"x":84,"y":17},{"s":18,"x":86,"y":14.9},
{"s":19,"x":42,"y":24.5},{"s":19,"x":44,"y":26.1},{"s":19,"x":46,"y":22.7},{"s":19,"x":48,"y":26.8},{"s":19,"x":50,"y":23.9},{"s":19,"x":52,"y":25.5},{"s":19,"x":54,"y":21.5},{"s":19,"x":56,"y":25.5},{"s":19,"x":58,"y":21.5},{"s":19,"x":60,"y":23},{"s":19,"x":62,"y":20},{"s":19,"x":64,"y":23},{"s":19,"x":66,"y":19.5},{"s":19,"x":68,"y":21.5},{"s":19,"x":70,"y":18.3},{"s":19,"x":72,"y":19.6},{"s":19,"x":74,"y":17.5},{"s":19,"x":76,"y":17.8},{"s":19,"x":78,"y":17.3},{"s":19,"x":80,"y":14.8},{"s":19,"x":82,"y":16},{"s":19,"x":84,"y":13.7},{"s":19,"x":86,"y":14.4},{"s":19,"x":88,"y":11.5},{"s":19,"x":90,"y":7.5},{"s":19,"x":92,"y":2},{"s":19,"x":94,"y":-2},{"s":19,"x":96,"y":-2.9},{"s":19,"x":100,"y":-3.1},{"s":19,"x":104,"y":-2.7},{"s":19,"x":108,"y":-3.2},{"s":19,"x":112,"y":-2.8},{"s":19,"x":116,"y":-3.3},{"s":19,"x":120,"y":-2.9},{"s":19,"x":124,"y":-3.4},{"s":19,"x":128,"y":-3},{"s":19,"x":132,"y":-3.5},{"s":19,"x":136,"y":-3.1},{"s":19,"x":140,"y":-3.6},{"s":19,"x":143,"y":-3.2},
{"s":19,"x":43,"y":23.8},{"s":19,"x":45,"y":25.4},{"s":19,"x":47,"y":26.8},{"s":19,"x":49,"y":23.9},{"s":19,"x":51,"y":25.7},{"s":19,"x":53,"y":21.5},{"s":19,"x":55,"y":25.5},{"s":19,"x":57,"y":22.5},{"s":19,"x":59,"y":23.8},{"s":19,"x":61,"y":20},{"s":19,"x":63,"y":23.5},{"s":19,"x":65,"y":20.3},{"s":19,"x":67,"y":21.5},{"s":19,"x":69,"y":21.4},{"s":19,"x":71,"y":17},{"s":19,"x":73,"y":19.6},{"s":19,"x":75,"y":16.7},{"s":19,"x":77,"y":19.1},{"s":19,"x":79,"y":14.6},{"s":19,"x":81,"y":16.4},{"s":19,"x":83,"y":14.4},{"s":19,"x":85,"y":14.6},
{"s":20,"x":43,"y":29.3},{"s":20,"x":45,"y":24.4},{"s":20,"x":47,"y":27},{"s":20,"x":49,"y":24.1},{"s":20,"x":51,"y":27.2},{"s":20,"x":53,"y":22.8},{"s":20,"x":55,"y":24.8},{"s":20,"x":57,"y":22.8},{"s":20,"x":59,"y":25.3},{"s":20,"x":61,"y":20.3},{"s":20,"x":63,"y":23.3},{"s":20,"x":65,"y":21.3},{"s":20,"x":67,"y":22.8},{"s":20,"x":69,"y":19.2},{"s":20,"x":71,"y":21},{"s":20,"x":73,"y":18.3},{"s":20,"x":75,"y":19.2},{"s":20,"x":77,"y":17.5},{"s":20,"x":79,"y":16.2},{"s":20,"x":81,"y":18.4},{"s":20,"x":83,"y":13.1},{"s":20,"x":85,"y":16.3},{"s":20,"x":87,"y":13.5},{"s":20,"x":89,"y":11},{"s":20,"x":91,"y":6.5},{"s":20,"x":93,"y":1},{"s":20,"x":95,"y":-2.5},{"s":20,"x":97,"y":-3.3},{"s":20,"x":101,"y":-3.5},{"s":20,"x":105,"y":-3.1},{"s":20,"x":109,"y":-3.6},{"s":20,"x":113,"y":-3.2},{"s":20,"x":117,"y":-3.7},{"s":20,"x":121,"y":-3.3},{"s":20,"x":125,"y":-3.6},{"s":20,"x":129,"y":-3.2},{"s":20,"x":130,"y":-3.4},
{"s":20,"x":44,"y":24.9},{"s":20,"x":46,"y":27.2},{"s":20,"x":48,"y":24.6},{"s":20,"x":50,"y":27.7},{"s":20,"x":52,"y":23.5},{"s":20,"x":54,"y":24.8},{"s":20,"x":56,"y":25.3},{"s":20,"x":58,"y":22.1},{"s":20,"x":60,"y":23.8},{"s":20,"x":62,"y":20.8},{"s":20,"x":64,"y":24.3},{"s":20,"x":66,"y":20.6},{"s":20,"x":68,"y":22},{"s":20,"x":70,"y":19.1},{"s":20,"x":72,"y":21.2},{"s":20,"x":74,"y":17.8},{"s":20,"x":76,"y":19.4},{"s":20,"x":78,"y":15.9},{"s":20,"x":80,"y":18.3},{"s":20,"x":82,"y":14.3},{"s":20,"x":84,"y":15.7},{"s":20,"x":86,"y":14.4},
{"s":21,"x":42,"y":22},{"s":21,"x":44,"y":26.6},{"s":21,"x":46,"y":23.2},{"s":21,"x":48,"y":24.3},{"s":21,"x":50,"y":25.9},{"s":21,"x":52,"y":21.5},{"s":21,"x":54,"y":23.5},{"s":21,"x":56,"y":20},{"s":21,"x":58,"y":22},{"s":21,"x":60,"y":23},{"s":21,"x":62,"y":18.5},{"s":21,"x":64,"y":21},{"s":21,"x":66,"y":18.5},{"s":21,"x":68,"y":19.5},{"s":21,"x":70,"y":19.8},{"s":21,"x":72,"y":16.6},{"s":21,"x":74,"y":17.5},{"s":21,"x":76,"y":16.3},{"s":21,"x":78,"y":17.6},{"s":21,"x":80,"y":14.3},{"s":21,"x":82,"y":15},{"s":21,"x":84,"y":11.2},{"s":21,"x":86,"y":12.9},{"s":21,"x":88,"y":10},{"s":21,"x":90,"y":5.5},{"s":21,"x":92,"y":0},{"s":21,"x":94,"y":-3.3},{"s":21,"x":96,"y":-3.9},{"s":21,"x":100,"y":-4.1},{"s":21,"x":104,"y":-3.7},{"s":21,"x":108,"y":-4.2},{"s":21,"x":112,"y":-3.8},{"s":21,"x":116,"y":-4.3},{"s":21,"x":120,"y":-3.9},{"s":21,"x":124,"y":-4.4},{"s":21,"x":128,"y":-4},{"s":21,"x":132,"y":-4.5},{"s":21,"x":136,"y":-4.1},{"s":21,"x":140,"y":-4.6},{"s":21,"x":144,"y":-4.2},{"s":21,"x":148,"y":-4.5},
{"s":21,"x":43,"y":25.8},{"s":21,"x":45,"y":22.9},{"s":21,"x":47,"y":24.8},{"s":21,"x":49,"y":26.1},{"s":21,"x":51,"y":21.7},{"s":21,"x":53,"y":24},{"s":21,"x":55,"y":20.8},{"s":21,"x":57,"y":23},{"s":21,"x":59,"y":21},{"s":21,"x":61,"y":19.3},{"s":21,"x":63,"y":21.8},{"s":21,"x":65,"y":18.8},{"s":21,"x":67,"y":20},{"s":21,"x":69,"y":18.2},{"s":21,"x":71,"y":19.7},{"s":21,"x":73,"y":18.1},{"s":21,"x":75,"y":15.4},{"s":21,"x":77,"y":18},{"s":21,"x":79,"y":15},{"s":21,"x":81,"y":15.7},{"s":21,"x":83,"y":14.1},{"s":21,"x":85,"y":11.6},
{"s":22,"x":43,"y":28.3},{"s":22,"x":45,"y":31.4},{"s":22,"x":47,"y":26},{"s":22,"x":49,"y":28.6},{"s":22,"x":51,"y":26.2},{"s":22,"x":53,"y":27.3},{"s":22,"x":55,"y":28.3},{"s":22,"x":57,"y":24.3},{"s":22,"x":59,"y":24.8},{"s":22,"x":61,"y":26.3},{"s":22,"x":63,"y":23.3},{"s":22,"x":65,"y":26.3},{"s":22,"x":67,"y":21.8},{"s":22,"x":69,"y":23.7},{"s":22,"x":71,"y":21.5},{"s":22,"x":73,"y":21.8},{"s":22,"x":75,"y":19.7},{"s":22,"x":77,"y":20.5},{"s":22,"x":79,"y":16.7},{"s":22,"x":81,"y":19.4},{"s":22,"x":83,"y":19.6},{"s":22,"x":85,"y":15.3},{"s":22,"x":87,"y":17},{"s":22,"x":89,"y":13.5},{"s":22,"x":91,"y":8},{"s":22,"x":93,"y":1},{"s":22,"x":95,"y":-3.5},{"s":22,"x":97,"y":-4.7},{"s":22,"x":101,"y":-4.9},{"s":22,"x":105,"y":-4.5},{"s":22,"x":109,"y":-5},{"s":22,"x":113,"y":-4.6},{"s":22,"x":117,"y":-5.1},{"s":22,"x":121,"y":-4.7},{"s":22,"x":125,"y":-5.2},{"s":22,"x":129,"y":-4.8},{"s":22,"x":133,"y":-5.3},{"s":22,"x":137,"y":-4.9},{"s":22,"x":141,"y":-5.4},{"s":22,"x":145,"y":-5},{"s":22,"x":149,"y":-5.5},{"s":22,"x":153,"y":-5.1},{"s":22,"x":157,"y":-5.6},
{"s":22,"x":44,"y":28.9},{"s":22,"x":46,"y":30.7},{"s":22,"x":48,"y":25.8},{"s":22,"x":50,"y":28.4},{"s":22,"x":52,"y":28.3},{"s":22,"x":54,"y":25.8},{"s":22,"x":56,"y":27.3},{"s":22,"x":58,"y":23.6},{"s":22,"x":60,"y":27.6},{"s":22,"x":62,"y":23.3},{"s":22,"x":64,"y":25.8},{"s":22,"x":66,"y":25.1},{"s":22,"x":68,"y":20.8},{"s":22,"x":70,"y":24.1},{"s":22,"x":72,"y":20.7},{"s":22,"x":74,"y":21.8},{"s":22,"x":76,"y":18.6},{"s":22,"x":78,"y":20.6},{"s":22,"x":80,"y":17.1},{"s":22,"x":82,"y":20.5},{"s":22,"x":84,"y":16.5},{"s":22,"x":86,"y":16.7},
{"s":23,"x":42,"y":25.5},{"s":23,"x":44,"y":22.6},{"s":23,"x":46,"y":25.7},{"s":23,"x":48,"y":20.3},{"s":23,"x":50,"y":22.9},{"s":23,"x":52,"y":23},{"s":23,"x":54,"y":20.5},{"s":23,"x":56,"y":22.5},{"s":23,"x":58,"y":18.5},{"s":23,"x":60,"y":21},{"s":23,"x":62,"y":20},{"s":23,"x":64,"y":17.5},{"s":23,"x":66,"y":20.5},{"s":23,"x":68,"y":17},{"s":23,"x":70,"y":17.8},{"s":23,"x":72,"y":15.6},{"s":23,"x":74,"y":17},{"s":23,"x":76,"y":15.3},{"s":23,"x":78,"y":15.1},{"s":23,"x":80,"y":16.3},{"s":23,"x":82,"y":11.5},{"s":23,"x":84,"y":13.2},{"s":23,"x":86,"y":9.4},{"s":23,"x":88,"y":6.5},{"s":23,"x":90,"y":2},{"s":23,"x":92,"y":-2.5},{"s":23,"x":94,"y":-5},{"s":23,"x":96,"y":-5.5},{"s":23,"x":100,"y":-5.7},{"s":23,"x":104,"y":-5.3},{"s":23,"x":108,"y":-5.8},{"s":23,"x":112,"y":-5.4},{"s":23,"x":116,"y":-5.9},{"s":23,"x":120,"y":-5.5},{"s":23,"x":124,"y":-6},{"s":23,"x":128,"y":-5.6},{"s":23,"x":132,"y":-6.1},{"s":23,"x":136,"y":-5.7},{"s":23,"x":140,"y":-6.2},{"s":23,"x":144,"y":-5.8},
{"s":23,"x":43,"y":25.1},{"s":23,"x":45,"y":22.7},{"s":23,"x":47,"y":25},{"s":23,"x":49,"y":22.6},{"s":23,"x":51,"y":21.5},{"s":23,"x":53,"y":22.8},{"s":23,"x":55,"y":19.5},{"s":23,"x":57,"y":22},{"s":23,"x":59,"y":20.8},{"s":23,"x":61,"y":19.5},{"s":23,"x":63,"y":20.3},{"s":23,"x":65,"y":17},{"s":23,"x":67,"y":19.8},{"s":23,"x":69,"y":16.4},{"s":23,"x":71,"y":18.2},{"s":23,"x":73,"y":15.3},{"s":23,"x":75,"y":17.2},{"s":23,"x":77,"y":13.7},{"s":23,"x":79,"y":16.7},{"s":23,"x":81,"y":12.9},{"s":23,"x":83,"y":13.4},{"s":23,"x":85,"y":10.8},
{"s":24,"x":43,"y":26.8},{"s":24,"x":45,"y":23.4},{"s":24,"x":47,"y":25.5},{"s":24,"x":49,"y":26.1},{"s":24,"x":51,"y":22.7},{"s":24,"x":53,"y":26.3},{"s":24,"x":55,"y":22.8},{"s":24,"x":57,"y":21.8},{"s":24,"x":59,"y":24.3},{"s":24,"x":61,"y":20.3},{"s":24,"x":63,"y":22.3},{"s":24,"x":65,"y":20.3},{"s":24,"x":67,"y":21.8},{"s":24,"x":69,"y":17.7},{"s":24,"x":71,"y":20},{"s":24,"x":73,"y":18.3},{"s":24,"x":75,"y":17.2},{"s":24,"x":77,"y":17.5},{"s":24,"x":79,"y":18.2},{"s":24,"x":81,"y":12.4},{"s":24,"x":83,"y":15.1},{"s":24,"x":85,"y":15.8},{"s":24,"x":87,"y":12},{"s":24,"x":89,"y":9},{"s":24,"x":91,"y":3.5},{"s":24,"x":93,"y":-2.5},{"s":24,"x":95,"y":-6},{"s":24,"x":97,"y":-6.5},{"s":24,"x":101,"y":-6.7},{"s":24,"x":105,"y":-6.3},{"s":24,"x":109,"y":-6.8},{"s":24,"x":113,"y":-6.4},{"s":24,"x":117,"y":-6.9},{"s":24,"x":121,"y":-6.5},{"s":24,"x":125,"y":-7},{"s":24,"x":129,"y":-6.6},{"s":24,"x":133,"y":-7.1},{"s":24,"x":137,"y":-6.7},{"s":24,"x":141,"y":-7.2},{"s":24,"x":145,"y":-6.8},{"s":24,"x":150,"y":-7.3},
{"s":24,"x":44,"y":27.1},{"s":24,"x":46,"y":23},{"s":24,"x":48,"y":24.8},{"s":24,"x":50,"y":26.4},{"s":24,"x":52,"y":23},{"s":24,"x":54,"y":25.6},{"s":24,"x":56,"y":23.8},{"s":24,"x":58,"y":21.1},{"s":24,"x":60,"y":23.3},{"s":24,"x":62,"y":20.3},{"s":24,"x":64,"y":22.8},{"s":24,"x":66,"y":19.6},{"s":24,"x":68,"y":20.8},{"s":24,"x":70,"y":19.9},{"s":24,"x":72,"y":17.2},{"s":24,"x":74,"y":18.8},{"s":24,"x":76,"y":16.4},{"s":24,"x":78,"y":19.4},{"s":24,"x":80,"y":14.3},{"s":24,"x":82,"y":14.8},{"s":24,"x":84,"y":14.5},{"s":24,"x":86,"y":14.4},
{"s":25,"x":42,"y":24.5},{"s":25,"x":44,"y":22.1},{"s":25,"x":46,"y":24.7},{"s":25,"x":48,"y":19.8},{"s":25,"x":50,"y":21.9},{"s":25,"x":52,"y":19.5},{"s":25,"x":54,"y":22.5},{"s":25,"x":56,"y":17.5},{"s":25,"x":58,"y":20.5},{"s":25,"x":60,"y":18},{"s":25,"x":62,"y":20},{"s":25,"x":64,"y":16},{"s":25,"x":66,"y":18.5},{"s":25,"x":68,"y":15.5},{"s":25,"x":70,"y":17.3},{"s":25,"x":72,"y":14.6},{"s":25,"x":74,"y":15.5},{"s":25,"x":76,"y":13.8},{"s":25,"x":78,"y":12.6},{"s":25,"x":80,"y":13.8},{"s":25,"x":82,"y":11},{"s":25,"x":84,"y":11.7},{"s":25,"x":86,"y":9.4},{"s":25,"x":88,"y":6},{"s":25,"x":90,"y":1},{"s":25,"x":92,"y":-4},{"s":25,"x":94,"y":-7},{"s":25,"x":96,"y":-7.5},{"s":25,"x":100,"y":-7.7},{"s":25,"x":104,"y":-7.3},{"s":25,"x":108,"y":-7.8},{"s":25,"x":112,"y":-7.4},{"s":25,"x":116,"y":-7.9},{"s":25,"x":120,"y":-7.5},{"s":25,"x":124,"y":-8},{"s":25,"x":128,"y":-7.6},{"s":25,"x":132,"y":-8.1},{"s":25,"x":136,"y":-7.7},{"s":25,"x":140,"y":-8.2},{"s":25,"x":143,"y":-7.8},{"s":25,"x":146,"y":-8.3},
{"s":25,"x":43,"y":22.3},{"s":25,"x":45,"y":25.4},{"s":25,"x":47,"y":20.8},{"s":25,"x":49,"y":21.9},{"s":25,"x":51,"y":22.2},{"s":25,"x":53,"y":20},{"s":25,"x":55,"y":18.5},{"s":25,"x":57,"y":21},{"s":25,"x":59,"y":18.3},{"s":25,"x":61,"y":20},{"s":25,"x":63,"y":16.5},{"s":25,"x":65,"y":18.8},{"s":25,"x":67,"y":16},{"s":25,"x":69,"y":17.4},{"s":25,"x":71,"y":15},{"s":25,"x":73,"y":16.6},{"s":25,"x":75,"y":13.2},{"s":25,"x":77,"y":14.2},{"s":25,"x":79,"y":14.2},{"s":25,"x":81,"y":11.4},{"s":25,"x":83,"y":12.4},{"s":25,"x":85,"y":10.1},
{"s":26,"x":43,"y":22.3},{"s":26,"x":45,"y":26.4},{"s":26,"x":47,"y":23},{"s":26,"x":49,"y":25.1},{"s":26,"x":51,"y":21.2},{"s":26,"x":53,"y":24.8},{"s":26,"x":55,"y":21.8},{"s":26,"x":57,"y":22.8},{"s":26,"x":59,"y":19.3},{"s":26,"x":61,"y":23.3},{"s":26,"x":63,"y":19.3},{"s":26,"x":65,"y":20.3},{"s":26,"x":67,"y":17.8},{"s":26,"x":69,"y":20.2},{"s":26,"x":71,"y":17},{"s":26,"x":73,"y":18.3},{"s":26,"x":75,"y":16.2},{"s":26,"x":77,"y":16.5},{"s":26,"x":79,"y":16.2},{"s":26,"x":81,"y":12.4},{"s":26,"x":83,"y":14.1},{"s":26,"x":85,"y":11.3},{"s":26,"x":87,"y":10.5},{"s":26,"x":89,"y":7},{"s":26,"x":91,"y":1},{"s":26,"x":93,"y":-5},{"s":26,"x":95,"y":-8},{"s":26,"x":97,"y":-8.5},{"s":26,"x":101,"y":-8.7},{"s":26,"x":105,"y":-8.3},{"s":26,"x":109,"y":-8.8},{"s":26,"x":113,"y":-8.4},{"s":26,"x":117,"y":-8.9},{"s":26,"x":121,"y":-8.5},{"s":26,"x":125,"y":-9},{"s":26,"x":129,"y":-8.6},{"s":26,"x":133,"y":-9.1},{"s":26,"x":137,"y":-8.7},{"s":26,"x":141,"y":-9.2},{"s":26,"x":145,"y":-9},{"s":26,"x":147,"y":-9.6},
{"s":26,"x":44,"y":25.9},{"s":26,"x":46,"y":23.7},{"s":26,"x":48,"y":26.1},{"s":26,"x":50,"y":21.2},{"s":26,"x":52,"y":24},{"s":26,"x":54,"y":21.8},{"s":26,"x":56,"y":24.3},{"s":26,"x":58,"y":20.1},{"s":26,"x":60,"y":22.3},{"s":26,"x":62,"y":19.8},{"s":26,"x":64,"y":20.8},{"s":26,"x":66,"y":20.6},{"s":26,"x":68,"y":17.5},{"s":26,"x":70,"y":19.6},{"s":26,"x":72,"y":16.7},{"s":26,"x":74,"y":18.8},{"s":26,"x":76,"y":15.4},{"s":26,"x":78,"y":17.4},{"s":26,"x":80,"y":13.3},{"s":26,"x":82,"y":14.3},{"s":26,"x":84,"y":12.2},{"s":26,"x":86,"y":11.4},
{"s":27,"x":42,"y":27},{"s":27,"x":44,"y":21.6},{"s":27,"x":46,"y":24.2},{"s":27,"x":48,"y":21.8},{"s":27,"x":50,"y":19.4},{"s":27,"x":52,"y":23},{"s":27,"x":54,"y":19.5},{"s":27,"x":56,"y":22},{"s":27,"x":58,"y":19},{"s":27,"x":60,"y":16.5},{"s":27,"x":62,"y":14.5},{"s":27,"x":64,"y":16},{"s":27,"x":66,"y":17.5},{"s":27,"x":68,"y":15.5},{"s":27,"x":70,"y":13.8},{"s":27,"x":72,"y":15.6},{"s":27,"x":74,"y":13.5},{"s":27,"x":76,"y":13.3},{"s":27,"x":78,"y":11.6},{"s":27,"x":80,"y":12.3},{"s":27,"x":82,"y":10},{"s":27,"x":84,"y":12.2},{"s":27,"x":86,"y":7.9},{"s":27,"x":88,"y":4.5},{"s":27,"x":90,"y":-1.5},{"s":27,"x":92,"y":-7},{"s":27,"x":94,"y":-9.5},{"s":27,"x":96,"y":-9.8},{"s":27,"x":100,"y":-9.9},{"s":27,"x":104,"y":-9.5},{"s":27,"x":108,"y":-10},{"s":27,"x":112,"y":-9.6},{"s":27,"x":116,"y":-10.1},{"s":27,"x":120,"y":-9.7},{"s":27,"x":124,"y":-10.2},{"s":27,"x":128,"y":-9.8},{"s":27,"x":132,"y":-10.3},{"s":27,"x":136,"y":-9.9},{"s":27,"x":140,"y":-10.4},{"s":27,"x":144,"y":-10},{"s":27,"x":148,"y":-10.5},{"s":27,"x":151,"y":-10.2},{"s":27,"x":151.5,"y":-12.5},
{"s":27,"x":43,"y":22.3},{"s":27,"x":45,"y":24.4},{"s":27,"x":47,"y":22},{"s":27,"x":49,"y":21.6},{"s":27,"x":51,"y":22.7},{"s":27,"x":53,"y":19.8},{"s":27,"x":55,"y":21.8},{"s":27,"x":57,"y":19.5},{"s":27,"x":59,"y":19.8},{"s":27,"x":61,"y":14.5},{"s":27,"x":63,"y":16.3},{"s":27,"x":65,"y":15.8},{"s":27,"x":67,"y":18},{"s":27,"x":69,"y":13.7},{"s":27,"x":71,"y":15.7},{"s":27,"x":73,"y":13.6},{"s":27,"x":75,"y":14.9},{"s":27,"x":77,"y":11.5},{"s":27,"x":79,"y":13},{"s":27,"x":81,"y":10.2},{"s":27,"x":83,"y":11.6},{"s":27,"x":85,"y":9.6},
{"s":28,"x":43,"y":24.3},{"s":28,"x":45,"y":20.4},{"s":28,"x":47,"y":25},{"s":28,"x":49,"y":21.6},{"s":28,"x":51,"y":23.2},{"s":28,"x":53,"y":21.3},{"s":28,"x":55,"y":19.3},{"s":28,"x":57,"y":22.3},{"s":28,"x":59,"y":20.8},{"s":28,"x":61,"y":18.3},{"s":28,"x":63,"y":20.3},{"s":28,"x":65,"y":16.3},{"s":28,"x":67,"y":19.8},{"s":28,"x":69,"y":16.7},{"s":28,"x":71,"y":17.5},{"s":28,"x":73,"y":15.8},{"s":28,"x":75,"y":16.7},{"s":28,"x":77,"y":14.5},{"s":28,"x":79,"y":16.7},{"s":28,"x":81,"y":12.4},{"s":28,"x":83,"y":10.6},{"s":28,"x":85,"y":13.3},{"s":28,"x":87,"y":10},{"s":28,"x":89,"y":5},{"s":28,"x":91,"y":-2},{"s":28,"x":93,"y":-8.5},{"s":28,"x":95,"y":-10.5},{"s":28,"x":97,"y":-10.7},{"s":28,"x":101,"y":-10.9},{"s":28,"x":105,"y":-10.5},{"s":28,"x":109,"y":-11},{"s":28,"x":113,"y":-10.6},{"s":28,"x":117,"y":-11.1},{"s":28,"x":121,"y":-10.7},{"s":28,"x":125,"y":-11.2},{"s":28,"x":129,"y":-10.8},{"s":28,"x":133,"y":-11.1},{"s":28,"x":137,"y":-10.6},{"s":28,"x":140,"y":-10.9},{"s":28,"x":142,"y":-10.4},
{"s":28,"x":44,"y":23.4},{"s":28,"x":46,"y":24.2},{"s":28,"x":48,"y":21.3},{"s":28,"x":50,"y":23.4},{"s":28,"x":52,"y":21.3},{"s":28,"x":54,"y":22.3},{"s":28,"x":56,"y":19.3},{"s":28,"x":58,"y":22.6},{"s":28,"x":60,"y":18.6},{"s":28,"x":62,"y":20.8},{"s":28,"x":64,"y":16.8},{"s":28,"x":66,"y":19.6},{"s":28,"x":68,"y":17.3},{"s":28,"x":70,"y":18.1},{"s":28,"x":72,"y":15.7},{"s":28,"x":74,"y":17.3},{"s":28,"x":76,"y":16.6},{"s":28,"x":78,"y":14.1},{"s":28,"x":80,"y":15.6},{"s":28,"x":82,"y":10.5},{"s":28,"x":84,"y":13},{"s":28,"x":86,"y":11.2},
{"s":29,"x":42,"y":22.5},{"s":29,"x":44,"y":24.6},{"s":29,"x":46,"y":20.2},{"s":29,"x":48,"y":24.8},{"s":29,"x":50,"y":20.9},{"s":29,"x":52,"y":20},{"s":29,"x":54,"y":21},{"s":29,"x":56,"y":18},{"s":29,"x":58,"y":20.5},{"s":29,"x":60,"y":17},{"s":29,"x":62,"y":16.5},{"s":29,"x":64,"y":18},{"s":29,"x":66,"y":13.5},{"s":29,"x":68,"y":16},{"s":29,"x":70,"y":13.8},{"s":29,"x":72,"y":14.6},{"s":29,"x":74,"y":12},{"s":29,"x":76,"y":12.3},{"s":29,"x":78,"y":11.1},{"s":29,"x":80,"y":10.8},{"s":29,"x":82,"y":11.5},{"s":29,"x":84,"y":9.8},{"s":29,"x":86,"y":8.8},{"s":29,"x":88,"y":3},{"s":29,"x":90,"y":-4},{"s":29,"x":92,"y":-9},{"s":29,"x":93.5,"y":-10.5},{"s":29,"x":96,"y":-11},{"s":29,"x":100,"y":-11.7},{"s":29,"x":104,"y":-11.3},{"s":29,"x":108,"y":-11.8},{"s":29,"x":112,"y":-11.5},{"s":29,"x":116,"y":-12},{"s":29,"x":120,"y":-11.8},{"s":29,"x":124,"y":-12.3},{"s":29,"x":128,"y":-12},{"s":29,"x":132,"y":-12.6},{"s":29,"x":136,"y":-13.2},{"s":29,"x":140,"y":-13.8},{"s":29,"x":142,"y":-13.5},{"s":29,"x":145,"y":-14.5},
{"s":29,"x":43,"y":25.1},{"s":29,"x":45,"y":20.9},{"s":29,"x":47,"y":24.5},{"s":29,"x":49,"y":21.9},{"s":29,"x":51,"y":21.5},{"s":29,"x":53,"y":19},{"s":29,"x":55,"y":20.5},{"s":29,"x":57,"y":20.8},{"s":29,"x":59,"y":17.3},{"s":29,"x":61,"y":17.8},{"s":29,"x":63,"y":18.3},{"s":29,"x":65,"y":14.3},{"s":29,"x":67,"y":15.8},{"s":29,"x":69,"y":13.9},{"s":29,"x":71,"y":15.7},{"s":29,"x":73,"y":12.3},{"s":29,"x":75,"y":13.2},{"s":29,"x":77,"y":10.7},{"s":29,"x":79,"y":12},{"s":29,"x":81,"y":11.7},{"s":29,"x":83,"y":9.7},{"s":29,"x":85,"y":9.8},
{"s":30,"x":43,"y":23.8},{"s":30,"x":45,"y":26.4},{"s":30,"x":47,"y":23.5},{"s":30,"x":49,"y":21.6},{"s":30,"x":51,"y":24.2},{"s":30,"x":53,"y":19.8},{"s":30,"x":55,"y":21.8},{"s":30,"x":57,"y":21.8},{"s":30,"x":59,"y":18.3},{"s":30,"x":61,"y":20.8},{"s":30,"x":63,"y":17.8},{"s":30,"x":65,"y":18.3},{"s":30,"x":67,"y":15.8},{"s":30,"x":69,"y":18.7},{"s":30,"x":71,"y":15},{"s":30,"x":73,"y":15.3},{"s":30,"x":75,"y":15.2},{"s":30,"x":77,"y":13.5},{"s":30,"x":79,"y":11.2},{"s":30,"x":81,"y":15.4},{"s":30,"x":83,"y":11.1},{"s":30,"x":85,"y":10},{"s":30,"x":87,"y":9.5},{"s":30,"x":89,"y":5},{"s":30,"x":91,"y":-3},{"s":30,"x":93,"y":-9.5},{"s":30,"x":94,"y":-10.5},{"s":30,"x":97,"y":-11.2},{"s":30,"x":101,"y":-12},{"s":30,"x":105,"y":-11.8},{"s":30,"x":109,"y":-12.4},{"s":30,"x":113,"y":-12},{"s":30,"x":117,"y":-12.5},{"s":30,"x":121,"y":-12.1},{"s":30,"x":125,"y":-12.6},{"s":30,"x":129,"y":-12.2},{"s":30,"x":133,"y":-12.7},{"s":30,"x":137,"y":-12.3},{"s":30,"x":140,"y":-12.6},
{"s":30,"x":44,"y":23.6},{"s":30,"x":46,"y":26},{"s":30,"x":48,"y":24.1},{"s":30,"x":50,"y":20.9},{"s":30,"x":52,"y":23},{"s":30,"x":54,"y":22.3},{"s":30,"x":56,"y":20.8},{"s":30,"x":58,"y":21.1},{"s":30,"x":60,"y":18.1},{"s":30,"x":62,"y":20.3},{"s":30,"x":64,"y":17.1},{"s":30,"x":66,"y":18.6},{"s":30,"x":68,"y":15.8},{"s":30,"x":70,"y":17.9},{"s":30,"x":72,"y":14.2},{"s":30,"x":74,"y":16.3},{"s":30,"x":76,"y":13.4},{"s":30,"x":78,"y":13.9},{"s":30,"x":80,"y":12.3},{"s":30,"x":82,"y":14.3},{"s":30,"x":84,"y":10.1},{"s":30,"x":86,"y":10.3},
{"s":31,"x":42,"y":32},{"s":31,"x":43.5,"y":27.6},{"s":31,"x":45,"y":30.3},{"s":31,"x":46.5,"y":31.9},{"s":31,"x":48,"y":27},{"s":31,"x":49.5,"y":29.1},{"s":31,"x":51,"y":25.3},{"s":31,"x":52.5,"y":29.4},{"s":31,"x":54,"y":26},{"s":31,"x":55.5,"y":28.1},{"s":31,"x":57,"y":24.3},{"s":31,"x":58.5,"y":28.4},{"s":31,"x":60,"y":24.5},{"s":31,"x":61.5,"y":23.1},{"s":31,"x":63,"y":26.3},{"s":31,"x":64.5,"y":25.4},{"s":31,"x":66,"y":22},{"s":31,"x":67.5,"y":25.6},{"s":31,"x":69,"y":21.8},{"s":31,"x":70.5,"y":23.8},{"s":31,"x":72,"y":21.3},{"s":31,"x":73.5,"y":23.8},{"s":31,"x":75,"y":19.8},{"s":31,"x":76.5,"y":21.8},{"s":31,"x":78,"y":19.3},{"s":31,"x":79.5,"y":21.3},{"s":31,"x":81,"y":18.2},{"s":31,"x":82.5,"y":19.6},{"s":31,"x":84,"y":17.5},{"s":31,"x":85.5,"y":17.9},{"s":31,"x":87,"y":16.8},{"s":31,"x":89,"y":15},{"s":31,"x":91,"y":12.5},{"s":31,"x":93,"y":9.5},{"s":31,"x":95,"y":7.2},{"s":31,"x":97,"y":6.6},{"s":31,"x":100,"y":6.9},{"s":31,"x":103,"y":6.3},{"s":31,"x":106,"y":6.8},{"s":31,"x":109,"y":6.2},{"s":31,"x":112,"y":6.7},{"s":31,"x":115,"y":6.1},{"s":31,"x":118,"y":6.6},{"s":31,"x":121,"y":6.2},{"s":31,"x":124,"y":6.8},{"s":31,"x":127,"y":6.3},{"s":31,"x":130,"y":6.7},{"s":31,"x":133,"y":6.1},{"s":31,"x":136,"y":6.6},{"s":31,"x":139,"y":6},{"s":31,"x":142,"y":6.5},{"s":31,"x":145,"y":6},{"s":31,"x":148,"y":6.4},{"s":31,"x":151,"y":5.9},{"s":31,"x":154,"y":6.3},{"s":31,"x":157,"y":5.9},{"s":31,"x":159,"y":6.2},
{"s":32,"x":42,"y":27},{"s":32,"x":43.5,"y":31.1},{"s":32,"x":45,"y":27.3},{"s":32,"x":46.5,"y":25.9},{"s":32,"x":48,"y":29.5},{"s":32,"x":49.5,"y":28.1},{"s":32,"x":51,"y":24.8},{"s":32,"x":52.5,"y":27.9},{"s":32,"x":54,"y":28},{"s":32,"x":55.5,"y":23.1},{"s":32,"x":57,"y":26.3},{"s":32,"x":58.5,"y":23.9},{"s":32,"x":60,"y":26.5},{"s":32,"x":61.5,"y":25.1},{"s":32,"x":63,"y":21.8},{"s":32,"x":64.5,"y":24.9},{"s":32,"x":66,"y":22},{"s":32,"x":67.5,"y":24.6},{"s":32,"x":69,"y":20.3},{"s":32,"x":70.5,"y":23.3},{"s":32,"x":72,"y":22.3},{"s":32,"x":73.5,"y":19.3},{"s":32,"x":75,"y":22.3},{"s":32,"x":76.5,"y":18.8},{"s":32,"x":78,"y":20.3},{"s":32,"x":79.5,"y":17.3},{"s":32,"x":81,"y":19.7},{"s":32,"x":82.5,"y":16.6},{"s":32,"x":84,"y":18},{"s":32,"x":85.5,"y":15.9},{"s":32,"x":87,"y":16.3},{"s":32,"x":89,"y":13.5},{"s":32,"x":91,"y":10},{"s":32,"x":93,"y":6},{"s":32,"x":95,"y":3.5},{"s":32,"x":97,"y":2.7},{"s":32,"x":100,"y":2.3},{"s":32,"x":103,"y":2.9},{"s":32,"x":106,"y":2.4},{"s":32,"x":109,"y":3},{"s":32,"x":112,"y":2.5},{"s":32,"x":115,"y":2.9},{"s":32,"x":118,"y":2.3},{"s":32,"x":121,"y":2.8},{"s":32,"x":124,"y":2.2},{"s":32,"x":127,"y":2.7},{"s":32,"x":130,"y":2.3},{"s":32,"x":133,"y":2.9},{"s":32,"x":136,"y":2.4},{"s":32,"x":139,"y":2.8},{"s":32,"x":142,"y":2.3},{"s":32,"x":145,"y":2.8},{"s":32,"x":148,"y":3.3},{"s":32,"x":151,"y":3},{"s":32,"x":152,"y":3.6},
{"s":33,"x":42,"y":30},{"s":33,"x":43.5,"y":27.1},{"s":33,"x":45,"y":24.3},{"s":33,"x":46.5,"y":27.9},{"s":33,"x":48,"y":24.5},{"s":33,"x":49.5,"y":27.6},{"s":33,"x":51,"y":23.3},{"s":33,"x":52.5,"y":23.4},{"s":33,"x":54,"y":26},{"s":33,"x":55.5,"y":24.6},{"s":33,"x":57,"y":21.3},{"s":33,"x":58.5,"y":24.4},{"s":33,"x":60,"y":21},{"s":33,"x":61.5,"y":24.1},{"s":33,"x":63,"y":20.8},{"s":33,"x":64.5,"y":19.9},{"s":33,"x":66,"y":23},{"s":33,"x":67.5,"y":19.6},{"s":33,"x":69,"y":21.8},{"s":33,"x":70.5,"y":17.8},{"s":33,"x":72,"y":20.3},{"s":33,"x":73.5,"y":20.3},{"s":33,"x":75,"y":16.8},{"s":33,"x":76.5,"y":18.8},{"s":33,"x":78,"y":16.3},{"s":33,"x":79.5,"y":17.8},{"s":33,"x":81,"y":15.2},{"s":33,"x":82.5,"y":17.1},{"s":33,"x":84,"y":14},{"s":33,"x":85.5,"y":14.9},{"s":33,"x":87,"y":13.8},{"s":33,"x":89,"y":11.5},{"s":33,"x":91,"y":7.5},{"s":33,"x":93,"y":3.5},{"s":33,"x":95,"y":1.8},{"s":33,"x":97,"y":1.5},{"s":33,"x":100,"y":1.9},{"s":33,"x":103,"y":1.4},{"s":33,"x":106,"y":2},{"s":33,"x":109,"y":1.5},{"s":33,"x":112,"y":2.1},{"s":33,"x":115,"y":1.6},{"s":33,"x":118,"y":2},{"s":33,"x":121,"y":1.4},{"s":33,"x":124,"y":1.9},{"s":33,"x":127,"y":1.5},{"s":33,"x":130,"y":2},{"s":33,"x":133,"y":1.6},{"s":33,"x":136,"y":2.1},{"s":33,"x":139,"y":1.6},{"s":33,"x":142,"y":2},{"s":33,"x":145,"y":1.5},{"s":33,"x":148,"y":2},{"s":33,"x":151,"y":1.6},{"s":33,"x":154,"y":2.1},{"s":33,"x":157,"y":1.7},{"s":33,"x":160,"y":2.2},
{"s":34,"x":42,"y":25},{"s":34,"x":43.5,"y":22.6},{"s":34,"x":45,"y":27.3},{"s":34,"x":46.5,"y":23.9},{"s":34,"x":48,"y":27},{"s":34,"x":49.5,"y":22.1},{"s":34,"x":51,"y":24.8},{"s":34,"x":52.5,"y":25.4},{"s":34,"x":54,"y":21.5},{"s":34,"x":55.5,"y":23.6},{"s":34,"x":57,"y":20.3},{"s":34,"x":58.5,"y":23.9},{"s":34,"x":60,"y":20.5},{"s":34,"x":61.5,"y":22.6},{"s":34,"x":63,"y":18.8},{"s":34,"x":64.5,"y":21.4},{"s":34,"x":66,"y":21},{"s":34,"x":67.5,"y":17.6},{"s":34,"x":69,"y":20.8},{"s":34,"x":70.5,"y":17.8},{"s":34,"x":72,"y":20.3},{"s":34,"x":73.5,"y":16.3},{"s":34,"x":75,"y":18.3},{"s":34,"x":76.5,"y":15.3},{"s":34,"x":78,"y":17.8},{"s":34,"x":79.5,"y":14.8},{"s":34,"x":81,"y":16.2},{"s":34,"x":82.5,"y":13.6},{"s":34,"x":84,"y":14.5},{"s":34,"x":85.5,"y":14.4},{"s":34,"x":87,"y":12.3},{"s":34,"x":89,"y":9.5},{"s":34,"x":91,"y":4.5},{"s":34,"x":93,"y":-0.5},{"s":34,"x":95,"y":-2.5},{"s":34,"x":97,"y":-2.9},{"s":34,"x":100,"y":-2.6},{"s":34,"x":103,"y":-3.1},{"s":34,"x":106,"y":-2.5},{"s":34,"x":109,"y":-3},{"s":34,"x":112,"y":-2.4},{"s":34,"x":115,"y":-2.9},{"s":34,"x":118,"y":-2.5},{"s":34,"x":121,"y":-3.1},{"s":34,"x":124,"y":-2.6},{"s":34,"x":127,"y":-3.2},{"s":34,"x":130,"y":-2.7},{"s":34,"x":133,"y":-3.1},{"s":34,"x":136,"y":-2.6},{"s":34,"x":138,"y":-3.2},{"s":34,"x":140,"y":-2.8},
{"s":35,"x":42,"y":29},{"s":35,"x":43.5,"y":26.1},{"s":35,"x":45,"y":29.8},{"s":35,"x":46.5,"y":24.9},{"s":35,"x":48,"y":27.5},{"s":35,"x":49.5,"y":28.1},{"s":35,"x":51,"y":23.3},{"s":35,"x":52.5,"y":26.4},{"s":35,"x":54,"y":26.5},{"s":35,"x":55.5,"y":22.6},{"s":35,"x":57,"y":26.3},{"s":35,"x":58.5,"y":22.9},{"s":35,"x":60,"y":22},{"s":35,"x":61.5,"y":25.1},{"s":35,"x":63,"y":23.8},{"s":35,"x":64.5,"y":20.4},{"s":35,"x":66,"y":23.5},{"s":35,"x":67.5,"y":20.6},{"s":35,"x":69,"y":23.3},{"s":35,"x":70.5,"y":19.3},{"s":35,"x":72,"y":19.3},{"s":35,"x":73.5,"y":21.3},{"s":35,"x":75,"y":18.3},{"s":35,"x":76.5,"y":20.8},{"s":35,"x":78,"y":16.8},{"s":35,"x":79.5,"y":18.8},{"s":35,"x":81,"y":16.2},{"s":35,"x":82.5,"y":17.6},{"s":35,"x":84,"y":15},{"s":35,"x":85.5,"y":15.9},{"s":35,"x":87,"y":14.3},{"s":35,"x":89,"y":11},{"s":35,"x":91,"y":6},{"s":35,"x":93,"y":0.5},{"s":35,"x":95,"y":-3},{"s":35,"x":97,"y":-3.6},{"s":35,"x":100,"y":-3.9},{"s":35,"x":103,"y":-3.4},{"s":35,"x":106,"y":-4},{"s":35,"x":109,"y":-3.5},{"s":35,"x":112,"y":-4.1},{"s":35,"x":115,"y":-3.6},{"s":35,"x":118,"y":-4.1},{"s":35,"x":121,"y":-3.5},{"s":35,"x":124,"y":-4},{"s":35,"x":127,"y":-3.5},{"s":35,"x":130,"y":-4.1},{"s":35,"x":133,"y":-3.6},{"s":35,"x":135,"y":-3.9},{"s":35,"x":137,"y":-3.5},
{"s":36,"x":42,"y":27},{"s":36,"x":43.5,"y":25.1},{"s":36,"x":45,"y":22.3},{"s":36,"x":46.5,"y":26.4},{"s":36,"x":48,"y":22.5},{"s":36,"x":49.5,"y":21.1},{"s":36,"x":51,"y":24.3},{"s":36,"x":52.5,"y":23.4},{"s":36,"x":54,"y":20},{"s":36,"x":55.5,"y":23.6},{"s":36,"x":57,"y":19.8},{"s":36,"x":58.5,"y":21.9},{"s":36,"x":60,"y":22.5},{"s":36,"x":61.5,"y":18.1},{"s":36,"x":63,"y":20.8},{"s":36,"x":64.5,"y":18.4},{"s":36,"x":66,"y":20.5},{"s":36,"x":67.5,"y":16.6},{"s":36,"x":69,"y":19.3},{"s":36,"x":70.5,"y":18.8},{"s":36,"x":72,"y":15.3},{"s":36,"x":73.5,"y":18.3},{"s":36,"x":75,"y":15.3},{"s":36,"x":76.5,"y":16.8},{"s":36,"x":78,"y":13.8},{"s":36,"x":79.5,"y":15.8},{"s":36,"x":81,"y":13.2},{"s":36,"x":82.5,"y":15.1},{"s":36,"x":84,"y":12},{"s":36,"x":85.5,"y":12.4},{"s":36,"x":87,"y":12.3},{"s":36,"x":89,"y":8},{"s":36,"x":91,"y":2},{"s":36,"x":93,"y":-4},{"s":36,"x":95,"y":-6},{"s":36,"x":97,"y":-6.3},{"s":36,"x":100,"y":-6.1},{"s":36,"x":103,"y":-6.5},{"s":36,"x":106,"y":-5.9},{"s":36,"x":109,"y":-6.2},{"s":36,"x":112,"y":-5.6},{"s":36,"x":115,"y":-5.8},{"s":36,"x":118,"y":-5.2},{"s":36,"x":121,"y":-5.4},{"s":36,"x":124,"y":-4.8},{"s":36,"x":127,"y":-5},{"s":36,"x":130,"y":-4.4},{"s":36,"x":133,"y":-4.5},{"s":36,"x":136,"y":-3.9},{"s":36,"x":139,"y":-4},{"s":36,"x":142,"y":-3.4},{"s":36,"x":145,"y":-3.5},{"s":36,"x":148,"y":-2.9},{"s":36,"x":150,"y":-3},{"s":36,"x":152,"y":-2.5},
{"s":37,"x":42,"y":23},{"s":37,"x":43.5,"y":26.1},{"s":37,"x":45,"y":22.8},{"s":37,"x":46.5,"y":24.9},{"s":37,"x":48,"y":21},{"s":37,"x":49.5,"y":24.9},{"s":37,"x":51,"y":21},{"s":37,"x":52.5,"y":20},{"s":37,"x":54,"y":23},{"s":37,"x":55.5,"y":19.4},{"s":37,"x":57,"y":20.8},{"s":37,"x":58.5,"y":16.9},{"s":37,"x":60,"y":19.5},{"s":37,"x":61.5,"y":19.6},{"s":37,"x":63,"y":16.3},{"s":37,"x":64.5,"y":18.4},{"s":37,"x":66,"y":15},{"s":37,"x":67.5,"y":18.1},{"s":37,"x":69,"y":15.3},{"s":37,"x":70.5,"y":17.8},{"s":37,"x":72,"y":13.8},{"s":37,"x":73.5,"y":15.8},{"s":37,"x":75,"y":13.3},{"s":37,"x":76.5,"y":15.3},{"s":37,"x":78,"y":12.3},{"s":37,"x":79.5,"y":13.8},{"s":37,"x":81,"y":10.7},{"s":37,"x":82.5,"y":12.6},{"s":37,"x":84,"y":10.5},{"s":37,"x":85.5,"y":10.9},{"s":37,"x":87,"y":9.8},{"s":37,"x":89,"y":5.5},{"s":37,"x":91,"y":-1},{"s":37,"x":93,"y":-7},{"s":37,"x":95,"y":-8.8},{"s":37,"x":97,"y":-9.1},{"s":37,"x":100,"y":-8.8},{"s":37,"x":103,"y":-9.3},{"s":37,"x":106,"y":-8.7},{"s":37,"x":109,"y":-9.1},{"s":37,"x":112,"y":-8.5},{"s":37,"x":115,"y":-8.8},{"s":37,"x":118,"y":-8.2},{"s":37,"x":121,"y":-8.5},{"s":37,"x":124,"y":-8},{"s":37,"x":127,"y":-8.4},{"s":37,"x":130,"y":-8.6},{"s":37,"x":133,"y":-9.2},{"s":37,"x":136,"y":-9.4},{"s":37,"x":139,"y":-9.9},{"s":37,"x":142,"y":-10.1},{"s":37,"x":145,"y":-10.6},
{"s":38,"x":42,"y":25.5},{"s":38,"x":43.5,"y":22.1},{"s":38,"x":45,"y":25.3},{"s":38,"x":46.5,"y":20.9},{"s":38,"x":48,"y":23.5},{"s":38,"x":49.5,"y":21.1},{"s":38,"x":51,"y":24.3},{"s":38,"x":52.5,"y":19.4},{"s":38,"x":54,"y":21.5},{"s":38,"x":55.5,"y":21.6},{"s":38,"x":57,"y":17.3},{"s":38,"x":58.5,"y":19.9},{"s":38,"x":60,"y":16.5},{"s":38,"x":61.5,"y":19.1},{"s":38,"x":63,"y":15.3},{"s":38,"x":64.5,"y":15.4},{"s":38,"x":66,"y":17.5},{"s":38,"x":67.5,"y":14.6},{"s":38,"x":69,"y":16.3},{"s":38,"x":70.5,"y":13.3},{"s":38,"x":72,"y":15.8},{"s":38,"x":73.5,"y":12.8},{"s":38,"x":75,"y":14.3},{"s":38,"x":76.5,"y":11.8},{"s":38,"x":78,"y":13.3},{"s":38,"x":79.5,"y":10.8},{"s":38,"x":81,"y":12.2},{"s":38,"x":82.5,"y":9.6},{"s":38,"x":84,"y":11},{"s":38,"x":85.5,"y":8.9},{"s":38,"x":87,"y":9.3},{"s":38,"x":89,"y":3},{"s":38,"x":91,"y":-4.5},{"s":38,"x":92.5,"y":-9.5},{"s":38,"x":94,"y":-10.8},{"s":38,"x":97,"y":-11.2},{"s":38,"x":100,"y":-11},{"s":38,"x":103,"y":-11.4},{"s":38,"x":106,"y":-10.8},{"s":38,"x":109,"y":-11.1},{"s":38,"x":112,"y":-10.5},{"s":38,"x":115,"y":-10.8},{"s":38,"x":118,"y":-10.2},{"s":38,"x":121,"y":-10.4},{"s":38,"x":124,"y":-9.8},{"s":38,"x":127,"y":-10},{"s":38,"x":130,"y":-9.3},{"s":38,"x":133,"y":-9.5},{"s":38,"x":136,"y":-8.8},{"s":38,"x":139,"y":-8.9},{"s":38,"x":142,"y":-8.2},{"s":38,"x":145,"y":-8},{"s":38,"x":148,"y":-7.3},{"s":38,"x":150,"y":-7}
]},
"data":{"name":"d"},
"layer":[
{"mark":{"type":"line","color":"#0000ff","strokeWidth":1.2,"clip":true},
"encoding":{
"x":{"field":"x","type":"quantitative","scale":{"domain":[40,180],"nice":false,"zero":false},"axis":{"orient":"bottom","values":[40,60,80,100,120,140,160,180],"title":"Solar Zenith Angle (ᵒ)","labelPadding":23,"titlePadding":7,"labelFlush":false}},
"y":{"field":"y","type":"quantitative","scale":{"domain":[-20,40],"nice":false,"zero":false},"axis":{"orient":"left","values":[-20,-10,0,10,20,30,40],"title":"Temperature Difference (K)","labelPadding":17,"titlePadding":8,"labelExpr":"datum.value < 0 ? '-' + abs(datum.value) : '' + datum.value"}},
"detail":{"field":"s"}}},
{"transform":[{"filter":"datum.s==1 && datum.x==42"}],
"mark":{"type":"point","opacity":0},
"encoding":{
"x":{"field":"x","type":"quantitative","scale":{"domain":[40,180],"nice":false,"zero":false},"axis":{"orient":"top","values":[40,60,80,100,120,140,160,180],"labels":false,"grid":false,"title":null}},
"y":{"field":"y","type":"quantitative","scale":{"domain":[-20,40],"nice":false,"zero":false},"axis":{"orient":"right","values":[-20,-10,0,10,20,30,40],"labels":false,"grid":false,"title":null}}}}
],
"resolve":{"axis":{"x":"independent","y":"independent"}}
}
